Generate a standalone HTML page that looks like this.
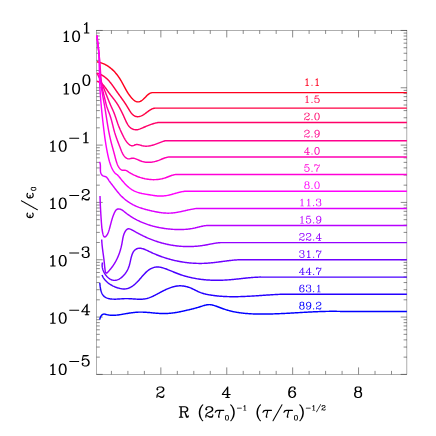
<!DOCTYPE html>
<html><head><meta charset="utf-8"><title>plot</title>
<style>
html,body{margin:0;padding:0;background:#fff;overflow:hidden;}
svg{display:block;}
</style></head><body>
<svg width="436" height="436" viewBox="0 0 436 436">
<rect width="436" height="436" fill="#fff"/>
<defs>
<path id="g0" fill-rule="evenodd" d="M11.00 -21.88 10.38 -21.62 7.50 -18.75 5.88 -18.00 5.25 -17.38 5.25 -17.12 5.12 -17.00 5.25 -16.88 5.25 -16.62 5.62 -16.25 5.88 -16.25 6.00 -16.12 6.12 -16.25 6.62 -16.25 8.12 -17.00 9.00 -17.75 9.12 -17.62 9.12 -1.00 9.00 -0.88 6.00 -0.88 5.88 -0.75 5.62 -0.75 5.25 -0.38 5.25 -0.12 5.12 0.00 5.25 0.12 5.25 0.38 5.88 0.88 15.12 0.88 15.75 0.38 15.75 0.12 15.88 0.00 15.75 -0.12 15.75 -0.38 15.12 -0.88 12.00 -0.88 11.88 -1.00 11.88 -21.12 11.38 -21.75 11.12 -21.75Z"/>
<path id="g1" fill-rule="evenodd" d="M5.12 -2.88 4.88 -2.88 4.38 -2.62 3.38 -1.62 3.12 -1.00 3.38 -0.38 4.38 0.62 5.00 0.88 5.62 0.62 6.62 -0.38 6.88 -1.00 6.62 -1.62 5.62 -2.62Z"/>
<path id="g2" fill-rule="evenodd" d="M4.88 -21.88 4.12 -21.25 4.12 -21.00 4.00 -20.88 4.00 -20.38 3.88 -20.25 3.88 -19.75 3.75 -19.62 3.75 -19.12 3.62 -19.00 3.62 -18.50 3.50 -18.38 3.50 -17.88 3.38 -17.75 3.38 -17.25 3.25 -17.12 3.25 -16.62 3.12 -16.50 3.12 -16.00 3.00 -15.88 3.00 -15.38 2.88 -15.25 2.88 -14.75 2.75 -14.62 2.75 -14.12 2.62 -14.00 2.62 -13.50 2.50 -13.38 2.50 -12.88 2.38 -12.75 2.38 -12.25 2.25 -12.12 2.25 -11.62 2.12 -11.50 2.12 -10.88 2.25 -10.62 2.62 -10.25 3.12 -10.12 3.62 -10.38 5.50 -12.25 5.75 -12.25 8.12 -13.12 10.75 -13.12 12.50 -12.25 14.25 -10.50 14.25 -10.25 15.12 -7.88 15.12 -6.12 15.00 -6.00 14.25 -3.50 12.50 -1.75 10.75 -0.88 8.12 -0.88 8.00 -1.00 5.50 -1.75 4.75 -2.50 4.38 -3.25 5.62 -4.38 5.88 -5.00 5.62 -5.62 4.62 -6.62 4.00 -6.88 3.38 -6.62 2.38 -5.62 2.12 -5.00 2.12 -3.88 2.25 -3.75 2.25 -3.38 3.12 -1.62 3.25 -1.62 4.38 -0.38 5.00 0.00 5.25 0.00 7.62 0.88 11.38 0.88 11.50 0.75 14.00 0.00 14.62 -0.38 16.62 -2.38 17.00 -3.00 17.00 -3.25 17.88 -5.62 17.88 -8.38 17.75 -8.50 17.00 -11.00 16.62 -11.62 14.62 -13.62 14.25 -13.88 12.25 -14.50 12.12 -14.62 11.88 -14.62 11.75 -14.75 11.50 -14.75 11.38 -14.88 7.62 -14.88 7.50 -14.75 5.00 -14.00 4.62 -13.75 4.50 -13.88 4.50 -14.12 4.62 -14.25 4.62 -14.75 4.75 -14.88 4.75 -15.38 4.88 -15.50 4.88 -16.00 5.00 -16.12 5.00 -16.62 5.12 -16.75 5.38 -18.50 5.62 -19.12 10.50 -19.12 10.62 -19.25 11.12 -19.25 11.25 -19.38 11.75 -19.38 11.88 -19.50 12.38 -19.50 12.50 -19.62 13.00 -19.62 13.12 -19.75 13.62 -19.75 13.75 -19.88 14.25 -19.88 14.38 -20.00 15.25 -20.12 15.75 -20.62 15.88 -21.12 15.75 -21.38 15.12 -21.88Z"/>
<path id="g3" fill-rule="evenodd" d="M5.00 -21.00 4.38 -20.62 3.38 -19.62 3.38 -19.50 3.12 -19.38 2.25 -17.62 2.25 -17.12 2.12 -17.00 2.12 -15.88 2.38 -15.38 3.38 -14.38 4.00 -14.12 4.62 -14.38 5.75 -15.62 5.75 -15.88 5.88 -16.00 5.62 -16.62 4.38 -17.75 4.75 -18.50 5.50 -19.25 5.75 -19.25 8.12 -20.12 11.75 -20.12 13.50 -19.25 14.25 -18.50 15.12 -16.75 15.12 -15.25 14.38 -13.75 14.00 -13.38 11.75 -11.88 5.88 -9.00 3.38 -6.62 3.00 -6.00 3.00 -5.75 2.12 -3.38 2.12 0.12 2.62 0.75 2.88 0.75 3.00 0.88 3.12 0.75 3.38 0.75 3.88 0.12 3.88 -1.62 4.38 -2.12 5.75 -2.12 6.88 -1.38 7.25 -1.25 7.50 -1.00 7.88 -0.88 8.12 -0.62 8.50 -0.50 8.75 -0.25 9.12 -0.12 9.38 0.12 9.75 0.25 10.00 0.50 10.88 0.88 15.12 0.88 15.62 0.62 16.62 -0.38 16.62 -0.50 16.88 -0.62 17.75 -2.38 17.75 -2.75 17.88 -2.88 17.88 -5.12 17.38 -5.75 17.12 -5.75 17.00 -5.88 16.88 -5.75 16.62 -5.75 16.25 -5.38 16.25 -5.12 16.12 -5.00 16.12 -3.38 15.50 -2.75 13.75 -1.88 11.12 -1.88 10.75 -2.12 10.50 -2.12 10.12 -2.38 9.88 -2.38 9.50 -2.62 9.25 -2.62 8.88 -2.88 8.62 -2.88 8.25 -3.12 8.00 -3.12 6.38 -3.88 4.38 -3.88 4.25 -4.00 4.38 -4.12 4.75 -5.50 6.50 -7.25 8.75 -8.38 9.00 -8.38 9.38 -8.62 9.62 -8.62 10.00 -8.88 10.25 -8.88 10.62 -9.12 10.88 -9.12 11.25 -9.38 11.50 -9.38 11.88 -9.62 12.12 -9.62 13.75 -10.38 16.38 -12.12 16.50 -12.38 16.88 -12.62 17.75 -14.38 17.75 -14.75 17.88 -14.88 17.88 -17.12 17.75 -17.25 17.75 -17.62 16.88 -19.38 16.75 -19.38 15.62 -20.62 15.00 -21.00 14.75 -21.00 12.38 -21.88 7.62 -21.88 7.50 -21.75Z"/>
<path id="g4" fill-rule="evenodd" d="M8.62 -21.88 8.50 -21.75 6.00 -21.00 5.25 -20.50 3.12 -17.25 3.00 -16.38 2.88 -16.25 2.88 -15.75 2.75 -15.62 2.75 -15.12 2.62 -15.00 2.62 -14.50 2.50 -14.38 2.50 -13.88 2.38 -13.75 2.38 -13.25 2.25 -13.12 2.25 -12.62 2.12 -12.50 2.12 -8.50 2.25 -8.38 2.25 -7.88 2.38 -7.75 2.38 -7.25 2.50 -7.12 2.50 -6.62 2.62 -6.50 2.62 -6.00 2.75 -5.88 2.75 -5.38 2.88 -5.25 2.88 -4.75 3.00 -4.62 3.12 -3.75 5.12 -0.62 6.00 0.00 6.25 0.00 8.62 0.88 11.38 0.88 11.50 0.75 14.00 0.00 14.75 -0.50 16.88 -3.75 17.00 -4.62 17.12 -4.75 17.12 -5.25 17.25 -5.38 17.25 -5.88 17.38 -6.00 17.38 -6.50 17.50 -6.62 17.50 -7.12 17.62 -7.25 17.62 -7.75 17.75 -7.88 17.75 -8.38 17.88 -8.50 17.88 -12.50 17.75 -12.62 17.75 -13.12 17.62 -13.25 17.62 -13.75 17.50 -13.88 17.50 -14.38 17.38 -14.50 17.38 -15.00 17.25 -15.12 17.25 -15.62 17.12 -15.75 17.12 -16.25 17.00 -16.38 16.88 -17.25 14.88 -20.38 14.00 -21.00 13.75 -21.00 11.38 -21.88ZM9.25 -20.12 10.75 -20.12 12.50 -19.25 13.25 -18.50 14.25 -16.38 14.25 -15.88 14.38 -15.75 14.38 -15.25 14.50 -15.12 14.50 -14.62 14.62 -14.50 14.62 -14.00 14.75 -13.88 14.75 -13.38 14.88 -13.25 14.88 -12.75 15.00 -12.62 15.00 -12.12 15.12 -12.00 15.12 -9.00 15.00 -8.88 15.00 -8.38 14.88 -8.25 14.88 -7.75 14.75 -7.62 14.75 -7.12 14.62 -7.00 14.62 -6.50 14.50 -6.38 14.50 -5.88 14.38 -5.75 14.38 -5.25 14.25 -5.12 14.12 -4.25 13.25 -2.50 12.50 -1.75 10.75 -0.88 9.25 -0.88 7.50 -1.75 6.75 -2.50 5.75 -4.62 5.75 -5.12 5.62 -5.25 5.62 -5.75 5.50 -5.88 5.50 -6.38 5.38 -6.50 5.38 -7.00 5.25 -7.12 5.25 -7.62 5.12 -7.75 5.12 -8.25 5.00 -8.38 5.00 -8.88 4.88 -9.00 4.88 -12.00 5.00 -12.12 5.00 -12.62 5.12 -12.75 5.12 -13.25 5.25 -13.38 5.25 -13.88 5.38 -14.00 5.38 -14.50 5.50 -14.62 5.50 -15.12 5.62 -15.25 5.62 -15.75 5.75 -15.88 5.88 -16.75 6.75 -18.50 7.50 -19.25Z"/>
<path id="g5" fill-rule="evenodd" d="M11.38 -21.88 8.62 -21.88 8.50 -21.75 6.00 -21.00 5.38 -20.62 3.38 -18.62 3.12 -18.25 2.50 -16.25 2.38 -16.12 2.38 -15.88 2.25 -15.75 2.25 -15.50 2.12 -15.38 2.12 -13.62 2.25 -13.50 2.25 -13.25 2.38 -13.12 2.38 -12.88 2.50 -12.75 3.12 -10.75 3.38 -10.38 5.38 -8.38 6.00 -8.00 6.25 -8.00 8.62 -7.12 10.38 -7.12 10.50 -7.25 10.75 -7.25 10.88 -7.38 11.12 -7.38 11.25 -7.50 13.25 -8.12 15.00 -9.75 15.12 -9.62 15.12 -9.00 15.00 -8.88 15.00 -8.50 14.88 -8.38 14.88 -8.00 14.75 -7.88 14.75 -7.50 14.62 -7.38 14.25 -5.50 13.25 -3.50 11.50 -1.75 9.75 -0.88 7.25 -0.88 5.62 -1.75 5.38 -2.25 6.62 -3.38 6.88 -4.00 6.62 -4.62 5.62 -5.62 5.00 -5.88 4.88 -5.75 4.62 -5.75 3.38 -4.62 3.12 -4.00 3.12 -2.88 3.25 -2.75 3.25 -2.38 4.12 -0.62 4.25 -0.62 4.88 0.00 6.38 0.75 6.75 0.75 6.88 0.88 10.38 0.88 10.50 0.75 13.00 0.00 13.62 -0.38 15.62 -2.38 15.62 -2.50 15.88 -2.62 16.75 -4.38 16.75 -4.62 17.00 -5.12 17.00 -5.50 17.12 -5.62 17.12 -6.00 17.25 -6.12 17.25 -6.50 17.38 -6.62 17.38 -7.00 17.50 -7.12 17.50 -7.50 17.62 -7.62 17.62 -8.00 17.75 -8.12 17.75 -8.50 17.88 -8.62 17.88 -15.38 17.75 -15.50 17.00 -18.00 16.62 -18.62 14.62 -20.62 14.00 -21.00 13.75 -21.00ZM10.75 -20.12 12.50 -19.25 14.25 -17.50 14.25 -17.25 15.12 -14.88 15.12 -14.12 15.00 -14.00 14.25 -11.50 12.50 -9.75 12.25 -9.75 9.88 -8.88 9.25 -8.88 7.50 -9.75 5.75 -11.50 5.75 -11.75 4.88 -14.12 4.88 -14.88 5.00 -15.00 5.75 -17.50 7.50 -19.25 9.25 -20.12Z"/>
<path id="g6" fill-rule="evenodd" d="M13.12 -21.88 12.88 -21.88 12.12 -21.38 11.00 -19.88 10.75 -19.38 9.62 -18.00 9.38 -17.50 8.25 -16.12 8.00 -15.62 6.88 -14.25 6.62 -13.75 5.50 -12.38 5.25 -11.88 4.12 -10.50 3.88 -10.00 2.75 -8.62 2.50 -8.12 1.38 -6.75 1.25 -6.12 1.12 -6.00 1.25 -5.88 1.25 -5.62 1.88 -5.12 11.00 -5.12 11.12 -5.00 11.12 -1.00 11.00 -0.88 9.00 -0.88 8.88 -0.75 8.62 -0.75 8.25 -0.38 8.25 -0.12 8.12 0.00 8.25 0.12 8.25 0.38 8.88 0.88 16.12 0.88 16.38 0.75 16.75 0.38 16.75 0.12 16.88 0.00 16.75 -0.12 16.75 -0.38 16.38 -0.75 16.12 -0.88 14.00 -0.88 13.88 -1.00 13.88 -5.00 14.00 -5.12 18.12 -5.12 18.75 -5.62 18.75 -5.88 18.88 -6.00 18.75 -6.12 18.75 -6.38 18.12 -6.88 14.00 -6.88 13.88 -7.00 13.88 -21.12 13.75 -21.38ZM11.00 -16.75 11.12 -16.62 11.12 -7.00 11.00 -6.88 4.00 -6.88 3.88 -7.00 4.25 -7.62 5.38 -9.00 5.62 -9.50 6.75 -10.88 7.00 -11.38 8.12 -12.75 8.38 -13.25Z"/>
<path id="g7" fill-rule="evenodd" d="M17.12 -21.88 16.88 -21.88 16.12 -21.38 15.25 -19.50 14.62 -18.88 13.25 -18.88 12.12 -19.62 11.75 -19.75 11.50 -20.00 11.12 -20.12 10.88 -20.38 10.50 -20.50 10.25 -20.75 9.88 -20.88 9.62 -21.12 9.25 -21.25 9.00 -21.50 8.12 -21.88 6.00 -21.88 5.88 -21.75 5.62 -21.75 5.38 -21.62 4.00 -20.25 3.88 -20.38 3.88 -21.12 3.38 -21.75 3.12 -21.75 3.00 -21.88 2.88 -21.75 2.62 -21.75 2.25 -21.38 2.25 -21.12 2.12 -21.00 2.12 -14.88 2.62 -14.25 2.88 -14.25 3.00 -14.12 3.12 -14.25 3.38 -14.25 3.88 -14.88 3.88 -16.75 4.62 -18.25 6.25 -19.12 7.75 -19.12 7.88 -19.00 8.50 -18.88 8.88 -18.62 9.12 -18.62 9.50 -18.38 9.75 -18.38 10.12 -18.12 10.38 -18.12 10.75 -17.88 11.00 -17.88 11.38 -17.62 11.62 -17.62 12.00 -17.38 12.25 -17.38 12.62 -17.12 15.12 -17.12 15.50 -17.38 15.75 -17.25 15.25 -15.50 10.38 -10.62 10.38 -10.50 10.12 -10.38 9.12 -8.38 9.12 -8.12 8.12 -5.38 8.12 0.12 8.62 0.75 8.88 0.75 9.00 0.88 9.50 0.62 10.00 0.88 10.12 0.75 10.38 0.75 10.75 0.38 10.88 0.12 10.88 -4.88 11.00 -5.00 11.75 -7.50 13.00 -9.88 13.50 -10.38 13.50 -10.50 14.00 -11.00 14.00 -11.12 14.50 -11.62 16.00 -13.62 16.75 -14.38 16.75 -14.62 17.00 -15.00 17.00 -15.25 17.88 -17.62 17.88 -21.12 17.75 -21.38ZM15.62 -17.38 15.75 -17.50 15.88 -17.38 15.75 -17.25Z"/>
<path id="g8" fill-rule="evenodd" d="M7.62 -21.88 7.50 -21.75 7.25 -21.75 7.12 -21.62 6.88 -21.62 6.75 -21.50 4.75 -20.88 4.25 -20.38 4.12 -20.38 3.25 -18.62 3.25 -18.12 3.12 -18.00 3.12 -14.88 3.25 -14.75 3.25 -14.38 4.12 -12.62 5.00 -12.00 4.38 -11.62 3.38 -10.62 3.38 -10.50 3.12 -10.38 2.25 -8.62 2.25 -8.12 2.12 -8.00 2.12 -3.88 2.25 -3.75 2.25 -3.38 3.12 -1.62 3.25 -1.62 4.38 -0.38 5.00 0.00 5.25 0.00 7.62 0.88 12.38 0.88 12.50 0.75 15.00 0.00 15.62 -0.38 16.62 -1.38 16.62 -1.50 16.88 -1.62 17.75 -3.38 17.75 -3.75 17.88 -3.88 17.88 -8.12 17.75 -8.25 17.75 -8.62 16.88 -10.38 16.75 -10.38 15.62 -11.62 15.00 -12.00 15.88 -12.62 16.75 -14.38 16.75 -14.75 16.88 -14.88 16.88 -18.12 16.75 -18.25 16.75 -18.62 15.88 -20.38 15.00 -21.00 14.75 -21.00 12.38 -21.88ZM8.25 -11.12 11.75 -11.12 13.50 -10.25 14.25 -9.50 15.12 -7.75 15.12 -4.25 14.25 -2.50 13.50 -1.75 11.75 -0.88 8.25 -0.88 6.50 -1.75 5.75 -2.50 4.88 -4.25 4.88 -7.75 5.75 -9.50 6.50 -10.25ZM6.62 -19.25 8.25 -20.12 11.75 -20.12 13.25 -19.38 14.12 -17.75 14.12 -15.25 13.38 -13.75 11.75 -12.88 8.25 -12.88 6.75 -13.62 5.88 -15.25 5.88 -17.75Z"/>
<path id="g9" fill-rule="evenodd" d="M7.62 -21.88 7.50 -21.75 7.25 -21.75 7.12 -21.62 6.88 -21.62 6.75 -21.50 4.75 -20.88 4.38 -20.62 3.25 -19.38 3.12 -19.38 2.25 -17.62 2.25 -17.12 2.12 -17.00 2.12 -15.88 2.38 -15.38 3.38 -14.38 4.00 -14.12 4.62 -14.38 5.62 -15.38 5.88 -16.00 5.62 -16.62 4.38 -17.75 4.75 -18.50 5.50 -19.25 5.75 -19.25 8.12 -20.12 11.75 -20.12 13.25 -19.38 14.12 -17.75 14.12 -15.25 13.38 -13.75 11.75 -12.88 9.00 -12.88 8.88 -12.75 8.62 -12.75 8.25 -12.38 8.25 -12.12 8.12 -12.00 8.25 -11.88 8.25 -11.62 8.88 -11.12 11.75 -11.12 13.50 -10.25 14.25 -9.50 14.25 -9.25 15.12 -6.88 15.12 -4.25 14.25 -2.50 13.50 -1.75 11.75 -0.88 8.12 -0.88 8.00 -1.00 5.50 -1.75 4.75 -2.50 4.38 -3.25 5.62 -4.38 5.88 -5.00 5.62 -5.62 4.62 -6.62 4.00 -6.88 3.38 -6.62 2.38 -5.62 2.12 -5.00 2.12 -3.88 2.25 -3.75 2.25 -3.38 3.12 -1.62 3.25 -1.62 4.38 -0.38 5.00 0.00 5.25 0.00 7.62 0.88 12.38 0.88 12.50 0.75 15.00 0.00 15.62 -0.38 16.62 -1.38 16.62 -1.50 16.88 -1.62 17.75 -3.38 17.75 -3.75 17.88 -3.88 17.88 -7.12 17.75 -7.25 17.75 -7.62 16.88 -9.38 16.75 -9.38 16.62 -9.62 14.62 -11.62 14.38 -11.75 14.75 -12.00 15.25 -12.12 15.75 -12.62 15.88 -12.62 16.75 -14.38 16.75 -14.75 16.88 -14.88 16.88 -18.12 16.75 -18.25 16.75 -18.62 15.88 -20.38 15.00 -21.00 14.75 -21.00 12.38 -21.88Z"/>
<path id="g10" fill-rule="evenodd" d="M9.62 -21.88 9.50 -21.75 7.00 -21.00 6.38 -20.62 4.38 -18.62 4.38 -18.50 4.12 -18.38 3.25 -16.62 3.25 -16.38 3.00 -15.88 3.00 -15.50 2.88 -15.38 2.88 -15.00 2.75 -14.88 2.75 -14.50 2.62 -14.38 2.62 -14.00 2.50 -13.88 2.50 -13.50 2.38 -13.38 2.38 -13.00 2.25 -12.88 2.25 -12.50 2.12 -12.38 2.12 -5.62 2.25 -5.50 2.25 -5.25 2.38 -5.12 2.38 -4.88 2.50 -4.75 3.12 -2.75 3.38 -2.38 5.38 -0.38 6.00 0.00 6.25 0.00 8.62 0.88 11.38 0.88 11.50 0.75 11.75 0.75 11.88 0.62 12.12 0.62 12.25 0.50 14.25 -0.12 14.62 -0.38 16.62 -2.38 17.00 -3.00 17.00 -3.25 17.88 -5.62 17.88 -7.38 17.75 -7.50 17.00 -10.00 16.62 -10.62 14.62 -12.62 14.25 -12.88 12.25 -13.50 12.12 -13.62 11.88 -13.62 11.75 -13.75 11.50 -13.75 11.38 -13.88 9.62 -13.88 9.50 -13.75 7.00 -13.00 6.38 -12.62 5.00 -11.25 4.88 -11.38 4.88 -12.00 5.00 -12.12 5.00 -12.50 5.12 -12.62 5.12 -13.00 5.25 -13.12 5.25 -13.50 5.38 -13.62 5.75 -15.50 6.75 -17.50 8.50 -19.25 10.25 -20.12 12.75 -20.12 14.38 -19.25 14.62 -18.75 13.38 -17.62 13.12 -17.00 13.38 -16.38 14.62 -15.25 14.88 -15.25 15.00 -15.12 15.62 -15.38 16.62 -16.38 16.88 -16.88 16.88 -18.12 16.75 -18.25 16.75 -18.62 15.88 -20.38 15.75 -20.38 15.12 -21.00 13.62 -21.75 13.12 -21.75 13.00 -21.88ZM10.12 -12.12 10.75 -12.12 12.50 -11.25 14.25 -9.50 14.25 -9.25 15.12 -6.88 15.12 -6.12 15.00 -6.00 14.25 -3.50 12.50 -1.75 10.75 -0.88 9.25 -0.88 7.50 -1.75 5.75 -3.50 5.75 -3.75 4.88 -6.12 4.88 -6.88 5.00 -7.00 5.75 -9.50 7.50 -11.25 7.75 -11.25Z"/>
<path id="g11" fill-rule="evenodd" d="M4.62 -21.00 3.25 -19.75 2.00 -17.38 2.00 -15.75 2.25 -15.25 3.25 -14.25 3.75 -14.00 4.25 -14.00 4.75 -14.25 5.75 -15.25 6.00 -15.75 6.00 -16.25 5.75 -16.75 4.62 -17.88 4.75 -18.25 5.62 -19.12 7.62 -19.75 7.75 -19.88 8.12 -19.88 8.25 -20.00 11.75 -20.00 13.25 -19.25 14.25 -18.25 15.00 -16.75 15.00 -15.25 14.12 -13.62 11.50 -11.88 5.62 -9.00 5.25 -8.75 3.25 -6.75 3.00 -6.38 3.00 -6.12 2.00 -3.38 2.00 0.25 2.12 0.50 2.75 1.00 3.25 1.00 3.50 0.88 4.00 0.25 4.00 -1.50 4.50 -2.00 5.62 -2.00 7.62 -0.88 7.88 -0.62 8.25 -0.50 8.50 -0.25 8.88 -0.12 9.12 0.12 9.50 0.25 9.75 0.50 10.12 0.62 10.38 0.88 10.62 0.88 10.75 1.00 15.25 1.00 15.75 0.75 16.75 -0.25 17.75 -2.25 18.00 -2.50 18.00 -5.25 17.50 -5.88 17.25 -6.00 16.75 -6.00 16.12 -5.50 16.00 -5.25 16.00 -3.50 15.25 -2.75 13.75 -2.00 11.25 -2.00 11.12 -2.12 10.50 -2.25 10.12 -2.50 9.88 -2.50 9.50 -2.75 9.25 -2.75 8.88 -3.00 8.62 -3.00 8.25 -3.25 8.00 -3.25 7.62 -3.50 7.38 -3.50 7.00 -3.75 6.75 -3.75 6.38 -4.00 4.62 -4.00 4.50 -4.12 4.50 -4.38 4.88 -5.38 6.75 -7.25 8.25 -8.00 8.50 -8.00 9.38 -8.50 9.62 -8.50 10.00 -8.75 10.25 -8.75 10.62 -9.00 10.88 -9.00 11.25 -9.25 11.50 -9.25 11.88 -9.50 12.12 -9.50 12.50 -9.75 13.38 -10.00 16.62 -12.12 17.00 -12.62 18.00 -14.62 18.00 -17.38 17.00 -19.38 15.75 -20.75 15.38 -21.00 12.88 -21.75 12.50 -22.00 7.62 -22.00 7.50 -21.88Z"/>
<path id="g12" fill-rule="evenodd" d="M13.38 -22.00 12.62 -22.00 12.12 -21.62 11.88 -21.12 10.75 -19.75 10.50 -19.25 9.38 -17.88 9.12 -17.38 8.00 -16.00 7.75 -15.50 6.62 -14.12 6.38 -13.62 1.12 -6.62 1.12 -6.38 1.00 -6.25 1.00 -5.75 1.12 -5.50 1.75 -5.00 10.88 -5.00 11.00 -4.88 11.00 -1.12 10.88 -1.00 8.75 -1.00 8.50 -0.88 8.00 -0.25 8.00 0.25 8.12 0.50 8.75 1.00 16.25 1.00 16.50 0.88 17.00 0.25 17.00 -0.25 16.50 -0.88 16.25 -1.00 14.12 -1.00 14.00 -1.12 14.00 -4.88 14.12 -5.00 18.25 -5.00 18.50 -5.12 19.00 -5.75 19.00 -6.25 18.88 -6.50 18.25 -7.00 14.12 -7.00 14.00 -7.12 14.00 -21.38ZM10.88 -16.38 11.00 -16.25 11.00 -7.12 10.88 -7.00 4.25 -7.00 4.12 -7.12 4.50 -7.75 5.62 -9.12 5.88 -9.62 7.00 -11.00 7.25 -11.50 8.38 -12.88 8.62 -13.38Z"/>
<path id="g13" fill-rule="evenodd" d="M9.50 -22.00 9.12 -21.75 6.62 -21.00 6.25 -20.75 4.25 -18.75 3.00 -16.38 2.88 -15.50 2.75 -15.38 2.75 -15.00 2.62 -14.88 2.62 -14.50 2.50 -14.38 2.50 -14.00 2.25 -13.38 2.25 -13.00 2.00 -12.50 2.00 -5.62 2.12 -5.50 3.00 -2.62 3.25 -2.25 5.25 -0.25 5.62 0.00 8.12 0.75 8.50 1.00 11.50 1.00 11.88 0.75 14.38 0.00 14.75 -0.25 16.75 -2.25 17.00 -2.62 17.00 -2.88 18.00 -5.62 18.00 -7.38 17.88 -7.50 17.00 -10.38 16.75 -10.75 14.75 -12.75 14.38 -13.00 11.88 -13.75 11.50 -14.00 9.62 -14.00 9.50 -13.88 6.62 -13.00 5.12 -11.62 5.00 -11.75 5.25 -13.00 5.38 -13.12 5.38 -13.50 5.50 -13.62 5.50 -14.00 5.62 -14.12 5.62 -14.50 5.75 -14.62 5.75 -15.00 5.88 -15.12 6.00 -15.75 6.75 -17.25 8.75 -19.25 10.25 -20.00 12.75 -20.00 14.00 -19.38 14.38 -19.00 14.38 -18.88 13.25 -17.75 13.00 -17.25 13.00 -16.75 13.25 -16.25 14.25 -15.25 14.75 -15.00 15.25 -15.00 15.75 -15.25 16.75 -16.25 17.00 -16.75 17.00 -18.38 16.00 -20.38 15.38 -21.00 13.38 -22.00ZM10.75 -12.00 12.25 -11.25 14.12 -9.38 14.75 -7.38 14.88 -7.25 15.00 -6.25 14.88 -6.12 14.88 -5.75 14.75 -5.62 14.12 -3.62 12.25 -1.75 10.75 -1.00 9.25 -1.00 7.75 -1.75 5.88 -3.62 5.25 -5.62 5.12 -5.75 5.00 -6.75 5.12 -6.88 5.12 -7.25 5.25 -7.38 5.88 -9.38 7.62 -11.12 9.62 -11.75 9.75 -11.88Z"/>
<path id="g14" fill-rule="evenodd" d="M8.00 -22.12 7.88 -22.00 7.50 -22.00 7.12 -21.75 4.62 -21.00 4.00 -20.38 3.00 -18.38 3.00 -14.62 4.00 -12.62 4.62 -12.00 3.25 -10.75 2.00 -8.38 2.00 -3.62 3.25 -1.25 4.62 0.00 7.12 0.75 7.50 1.00 12.50 1.00 12.88 0.75 15.38 0.00 15.75 -0.25 16.75 -1.25 18.00 -3.62 18.00 -8.38 16.75 -10.75 15.38 -12.00 16.00 -12.62 17.00 -14.62 17.00 -18.38 16.00 -20.38 15.38 -21.00 12.88 -21.75 12.50 -22.00 8.12 -22.00ZM8.25 -11.00 11.75 -11.00 13.25 -10.25 14.25 -9.25 15.00 -7.75 15.00 -4.25 14.25 -2.75 13.25 -1.75 11.75 -1.00 8.25 -1.00 6.75 -1.75 5.75 -2.75 5.00 -4.25 5.00 -7.75 5.75 -9.25 6.75 -10.25ZM6.62 -19.00 7.00 -19.38 8.25 -20.00 11.75 -20.00 13.00 -19.38 13.38 -19.00 14.00 -17.75 14.00 -15.25 13.38 -14.00 13.00 -13.62 11.75 -13.00 8.25 -13.00 7.00 -13.62 6.62 -14.00 6.00 -15.25 6.00 -17.75Z"/>
<path id="g15" fill-rule="evenodd" d="M11.25 -22.00 10.75 -22.00 10.25 -21.75 7.25 -18.75 5.62 -18.00 5.00 -17.25 5.00 -16.75 5.12 -16.50 5.75 -16.00 6.38 -16.00 8.38 -17.00 8.88 -17.38 9.00 -17.25 9.00 -1.12 8.88 -1.00 5.75 -1.00 5.50 -0.88 5.00 -0.25 5.00 0.25 5.12 0.50 5.75 1.00 15.25 1.00 15.50 0.88 16.00 0.25 16.00 -0.25 15.88 -0.50 15.25 -1.00 12.12 -1.00 12.00 -1.12 12.00 -21.25 11.88 -21.50Z"/>
<path id="g16" fill-rule="evenodd" d="M9.00 -22.12 8.88 -22.00 8.50 -22.00 8.12 -21.75 5.62 -21.00 5.12 -20.62 3.12 -17.62 3.12 -17.38 2.88 -17.00 2.88 -16.38 2.75 -16.25 2.75 -15.75 2.62 -15.62 2.62 -15.12 2.50 -15.00 2.50 -14.50 2.38 -14.38 2.38 -13.88 2.25 -13.75 2.25 -13.25 2.12 -13.12 2.12 -12.62 2.00 -12.50 2.00 -8.50 2.12 -8.38 2.12 -7.88 2.25 -7.75 2.25 -7.25 2.38 -7.12 2.38 -6.62 2.50 -6.50 2.50 -6.00 2.62 -5.88 2.62 -5.38 2.75 -5.25 2.75 -4.75 2.88 -4.62 2.88 -4.00 3.12 -3.62 3.12 -3.38 5.12 -0.38 5.62 0.00 8.12 0.75 8.50 1.00 11.50 1.00 11.88 0.75 14.38 0.00 14.88 -0.38 16.88 -3.38 16.88 -3.62 17.12 -4.00 17.12 -4.62 17.25 -4.75 17.25 -5.25 17.38 -5.38 17.38 -5.88 17.50 -6.00 17.50 -6.50 17.62 -6.62 17.62 -7.12 17.75 -7.25 17.75 -7.75 17.88 -7.88 17.88 -8.38 18.00 -8.50 18.00 -12.50 17.88 -12.62 17.88 -13.12 17.75 -13.25 17.75 -13.75 17.62 -13.88 17.62 -14.38 17.50 -14.50 17.50 -15.00 17.38 -15.12 17.38 -15.62 17.25 -15.75 17.25 -16.25 17.12 -16.38 17.12 -17.00 16.88 -17.38 16.88 -17.62 14.88 -20.62 14.38 -21.00 11.88 -21.75 11.50 -22.00 9.12 -22.00ZM9.25 -20.00 10.75 -20.00 12.25 -19.25 13.25 -18.25 14.12 -16.38 14.12 -15.88 14.25 -15.75 14.25 -15.25 14.38 -15.12 14.38 -14.62 14.50 -14.50 14.50 -14.00 14.62 -13.88 14.62 -13.38 14.75 -13.25 14.75 -12.75 14.88 -12.62 14.88 -12.00 15.00 -11.88 15.00 -9.12 14.88 -9.00 14.88 -8.38 14.75 -8.25 14.75 -7.75 14.62 -7.62 14.62 -7.12 14.50 -7.00 14.50 -6.50 14.38 -6.38 14.38 -5.88 14.25 -5.75 14.25 -5.25 14.12 -5.12 14.00 -4.25 13.25 -2.75 12.25 -1.75 10.75 -1.00 9.25 -1.00 7.75 -1.75 6.75 -2.75 5.88 -4.62 5.88 -5.12 5.75 -5.25 5.75 -5.75 5.62 -5.88 5.62 -6.38 5.50 -6.50 5.50 -7.00 5.38 -7.12 5.38 -7.62 5.25 -7.75 5.25 -8.25 5.12 -8.38 5.12 -9.00 5.00 -9.12 5.00 -11.88 5.12 -12.00 5.12 -12.62 5.25 -12.75 5.25 -13.25 5.38 -13.38 5.38 -13.88 5.50 -14.00 5.50 -14.50 5.62 -14.62 5.62 -15.12 5.75 -15.25 5.75 -15.75 5.88 -15.88 6.00 -16.75 6.75 -18.25 7.75 -19.25Z"/>
<path id="g17" fill-rule="evenodd" d="M3.00 -9.25 3.00 -8.75 3.12 -8.50 3.75 -8.00 22.25 -8.00 22.50 -8.12 23.00 -8.75 23.00 -9.25 22.88 -9.50 22.25 -10.00 3.75 -10.00 3.50 -9.88Z"/>
<path id="g18" fill-rule="evenodd" d="M7.62 -22.00 7.50 -21.88 4.62 -21.00 3.25 -19.75 2.00 -17.38 2.00 -15.75 2.25 -15.25 3.25 -14.25 3.75 -14.00 4.25 -14.00 4.75 -14.25 5.75 -15.25 6.00 -15.75 6.00 -16.25 5.75 -16.75 4.62 -17.88 4.75 -18.25 5.62 -19.12 7.62 -19.75 7.75 -19.88 8.12 -19.88 8.25 -20.00 11.75 -20.00 13.00 -19.38 13.38 -19.00 14.00 -17.75 14.00 -15.25 13.38 -14.00 13.00 -13.62 11.75 -13.00 8.75 -13.00 8.12 -12.50 8.00 -12.25 8.00 -11.75 8.12 -11.50 8.75 -11.00 11.75 -11.00 13.25 -10.25 14.12 -9.38 14.75 -7.38 14.88 -7.25 14.88 -6.88 15.00 -6.75 15.00 -4.25 14.25 -2.75 13.25 -1.75 11.75 -1.00 8.25 -1.00 8.12 -1.12 7.75 -1.12 7.62 -1.25 5.88 -1.75 4.75 -2.75 4.62 -3.12 5.75 -4.25 6.00 -4.75 6.00 -5.25 5.75 -5.75 4.75 -6.75 4.25 -7.00 3.75 -7.00 3.25 -6.75 2.25 -5.75 2.00 -5.25 2.00 -3.62 3.25 -1.25 4.62 0.00 4.88 0.00 7.62 1.00 12.50 1.00 12.88 0.75 15.38 0.00 15.75 -0.25 16.75 -1.25 18.00 -3.62 18.00 -7.38 16.75 -9.75 14.75 -11.75 15.12 -12.00 15.38 -12.00 16.00 -12.62 17.00 -14.62 17.00 -18.38 16.00 -20.38 15.38 -21.00 12.88 -21.75 12.50 -22.00Z"/>
<path id="g19" fill-rule="evenodd" d="M4.62 -22.00 4.00 -21.38 4.00 -21.12 3.88 -21.00 3.88 -20.38 3.75 -20.25 3.75 -19.75 3.62 -19.62 3.62 -19.12 3.50 -19.00 3.50 -18.50 3.38 -18.38 3.38 -17.88 3.25 -17.75 3.25 -17.25 3.12 -17.12 3.12 -16.62 3.00 -16.50 3.00 -16.00 2.88 -15.88 2.88 -15.38 2.75 -15.25 2.75 -14.75 2.62 -14.62 2.62 -14.12 2.50 -14.00 2.50 -13.50 2.38 -13.38 2.38 -12.88 2.25 -12.75 2.25 -12.25 2.12 -12.12 2.12 -11.62 2.00 -11.50 2.00 -10.62 2.62 -10.00 3.38 -10.00 5.88 -12.25 6.12 -12.25 7.75 -12.88 8.12 -12.88 8.25 -13.00 10.75 -13.00 12.25 -12.25 14.12 -10.38 14.75 -8.38 14.88 -8.25 14.88 -7.88 15.00 -7.75 15.00 -6.25 14.88 -6.12 14.88 -5.75 14.75 -5.62 14.12 -3.62 12.25 -1.75 10.75 -1.00 8.25 -1.00 8.12 -1.12 7.75 -1.12 7.62 -1.25 5.62 -1.88 4.75 -2.75 4.62 -3.12 5.75 -4.25 6.00 -4.75 6.00 -5.25 5.75 -5.75 4.75 -6.75 4.25 -7.00 3.75 -7.00 3.25 -6.75 2.25 -5.75 2.00 -5.25 2.00 -3.62 3.00 -1.62 4.25 -0.25 4.62 0.00 4.88 0.00 7.62 1.00 11.50 1.00 11.88 0.75 14.38 0.00 14.75 -0.25 16.75 -2.25 17.00 -2.62 17.00 -2.88 18.00 -5.62 18.00 -8.38 17.88 -8.50 17.00 -11.38 16.75 -11.75 14.75 -13.75 14.38 -14.00 11.88 -14.75 11.50 -15.00 7.62 -15.00 4.88 -14.00 4.62 -14.12 4.75 -14.25 4.75 -14.75 4.88 -14.88 4.88 -15.38 5.00 -15.50 5.00 -16.00 5.12 -16.12 5.12 -16.62 5.25 -16.75 5.50 -18.50 5.75 -19.00 10.50 -19.00 10.62 -19.12 11.12 -19.12 11.25 -19.25 11.75 -19.25 11.88 -19.38 12.38 -19.38 12.50 -19.50 13.00 -19.50 13.12 -19.62 13.62 -19.62 13.75 -19.75 14.25 -19.75 14.38 -19.88 15.00 -19.88 15.12 -20.00 15.38 -20.00 16.00 -20.62 16.00 -21.38 15.38 -22.00Z"/>
<path id="g20" fill-rule="evenodd" d="M1.50 -21.88 1.00 -21.25 1.00 -20.75 1.50 -20.12 1.75 -20.00 3.88 -20.00 4.00 -19.88 4.00 -1.12 3.88 -1.00 1.75 -1.00 1.50 -0.88 1.00 -0.25 1.00 0.25 1.12 0.50 1.75 1.00 9.25 1.00 9.88 0.50 10.00 0.25 10.00 -0.25 9.50 -0.88 9.25 -1.00 7.12 -1.00 7.00 -1.12 7.00 -9.88 7.12 -10.00 10.75 -10.00 12.00 -9.38 12.38 -9.00 13.00 -7.75 13.00 -7.50 13.38 -6.62 13.38 -6.25 13.62 -5.75 13.62 -5.38 13.88 -4.88 13.88 -4.50 14.12 -4.00 14.12 -3.62 14.38 -3.12 14.38 -2.75 14.62 -2.25 14.62 -1.88 14.88 -1.38 14.88 -1.00 15.25 -0.25 16.25 0.75 16.75 1.00 19.25 1.00 19.50 0.88 20.00 0.38 20.75 -1.25 21.00 -1.50 21.00 -3.25 20.50 -3.88 20.25 -4.00 19.75 -4.00 19.12 -3.50 19.00 -3.25 19.00 -2.50 18.50 -2.00 17.75 -2.75 17.62 -3.25 17.25 -3.88 17.25 -4.12 16.88 -4.75 16.88 -5.00 16.50 -5.62 16.50 -5.88 16.12 -6.50 16.12 -6.75 15.75 -7.38 15.75 -7.62 15.38 -8.25 15.12 -9.12 14.50 -10.00 14.88 -10.25 17.38 -11.00 17.75 -11.25 18.75 -12.25 20.00 -14.62 20.00 -17.38 18.75 -19.75 17.38 -21.00 14.88 -21.75 14.50 -22.00 1.75 -22.00ZM7.00 -19.88 7.12 -20.00 13.75 -20.00 15.25 -19.25 16.25 -18.25 17.00 -16.75 17.00 -15.25 16.25 -13.75 15.25 -12.75 13.75 -12.00 7.12 -12.00 7.00 -12.12Z"/>
<path id="g21" fill-rule="evenodd" d="M10.75 -26.00 10.25 -25.75 8.00 -23.50 7.88 -23.12 6.12 -20.62 4.00 -16.38 4.00 -16.12 3.88 -16.00 3.88 -15.38 3.75 -15.25 3.75 -14.75 3.62 -14.62 3.62 -14.12 3.50 -14.00 3.50 -13.50 3.38 -13.38 3.38 -12.88 3.25 -12.75 3.25 -12.25 3.12 -12.12 3.12 -11.62 3.00 -11.50 3.00 -6.50 3.12 -6.38 3.12 -5.88 3.25 -5.75 3.25 -5.25 3.38 -5.12 3.38 -4.62 3.50 -4.50 3.50 -4.00 3.62 -3.88 3.62 -3.38 3.75 -3.25 3.75 -2.75 3.88 -2.62 3.88 -2.00 4.00 -1.88 4.00 -1.62 6.12 2.62 7.88 5.12 8.00 5.50 10.25 7.75 10.75 8.00 11.25 8.00 11.88 7.50 12.00 7.25 12.00 6.75 11.75 6.25 9.75 4.25 8.00 0.75 8.00 0.50 7.75 0.12 7.75 -0.12 7.00 -2.12 6.88 -3.12 6.75 -3.25 6.75 -3.75 6.62 -3.88 6.62 -4.38 6.50 -4.50 6.50 -5.00 6.38 -5.12 6.38 -5.62 6.25 -5.75 6.25 -6.25 6.12 -6.38 6.12 -7.00 6.00 -7.12 6.00 -10.88 6.12 -11.00 6.12 -11.62 6.25 -11.75 6.25 -12.25 6.38 -12.38 6.38 -12.88 6.50 -13.00 6.50 -13.50 6.62 -13.62 6.88 -15.38 7.00 -15.50 7.00 -15.88 7.12 -16.00 7.75 -18.12 9.75 -22.25 11.75 -24.25 12.00 -24.75 12.00 -25.25 11.88 -25.50 11.25 -26.00Z"/>
<path id="g22" fill-rule="evenodd" d="M9.00 -22.50 6.25 -21.50 5.50 -21.38 4.75 -20.75 2.75 -17.75 2.75 -17.50 2.50 -17.00 2.50 -16.38 2.38 -16.25 2.38 -15.75 2.25 -15.62 2.25 -15.12 2.12 -15.00 2.12 -14.50 2.00 -14.38 1.75 -12.62 1.62 -12.50 1.62 -8.50 1.75 -8.38 1.75 -7.88 1.88 -7.75 1.88 -7.25 2.00 -7.12 2.00 -6.62 2.12 -6.50 2.12 -6.00 2.25 -5.88 2.25 -5.38 2.38 -5.25 2.38 -4.75 2.50 -4.62 2.50 -4.00 2.62 -3.88 2.75 -3.25 4.75 -0.25 5.50 0.38 6.25 0.50 6.38 0.62 7.75 1.00 8.50 1.38 11.50 1.38 12.25 1.00 12.50 1.00 13.75 0.50 14.50 0.38 15.25 -0.25 17.25 -3.25 17.25 -3.50 17.50 -4.00 17.50 -4.62 17.62 -4.75 17.62 -5.25 17.75 -5.38 17.75 -5.88 17.88 -6.00 17.88 -6.50 18.00 -6.62 18.25 -8.38 18.38 -8.50 18.38 -12.50 18.25 -12.62 18.25 -13.12 18.12 -13.25 18.12 -13.75 18.00 -13.88 18.00 -14.38 17.88 -14.50 17.88 -15.00 17.75 -15.12 17.75 -15.62 17.62 -15.75 17.62 -16.25 17.50 -16.38 17.50 -17.00 17.38 -17.12 17.25 -17.75 15.25 -20.75 14.50 -21.38 13.75 -21.50 13.62 -21.62 12.25 -22.00 11.50 -22.38 9.12 -22.38ZM9.38 -19.62 10.62 -19.62 12.12 -18.88 12.88 -18.12 13.75 -16.38 13.75 -15.88 13.88 -15.75 13.88 -15.25 14.00 -15.12 14.00 -14.62 14.12 -14.50 14.12 -14.00 14.25 -13.88 14.25 -13.38 14.38 -13.25 14.38 -12.75 14.50 -12.62 14.50 -12.00 14.62 -11.88 14.62 -9.12 14.50 -9.00 14.50 -8.38 14.38 -8.25 14.38 -7.75 14.25 -7.62 14.25 -7.12 14.12 -7.00 14.12 -6.50 14.00 -6.38 13.75 -4.62 12.88 -2.88 12.12 -2.12 10.62 -1.38 9.38 -1.38 7.88 -2.12 7.12 -2.88 6.25 -4.62 6.25 -5.12 6.12 -5.25 6.12 -5.75 6.00 -5.88 6.00 -6.38 5.88 -6.50 5.88 -7.00 5.75 -7.12 5.75 -7.62 5.62 -7.75 5.62 -8.25 5.50 -8.38 5.50 -9.00 5.38 -9.12 5.38 -11.88 5.50 -12.00 5.50 -12.62 5.62 -12.75 5.62 -13.25 5.75 -13.38 5.75 -13.88 5.88 -14.00 5.88 -14.50 6.00 -14.62 6.25 -16.38 7.12 -18.12 7.88 -18.88Z"/>
<path id="g23" fill-rule="evenodd" d="M2.75 -26.00 2.12 -25.50 2.00 -25.25 2.00 -24.75 2.25 -24.25 4.25 -22.25 6.00 -18.75 6.00 -18.50 6.25 -18.12 6.25 -17.88 7.00 -15.88 7.12 -14.88 7.25 -14.75 7.25 -14.25 7.38 -14.12 7.38 -13.62 7.50 -13.50 7.50 -13.00 7.62 -12.88 7.62 -12.38 7.75 -12.25 7.75 -11.75 7.88 -11.62 7.88 -11.00 8.00 -10.88 8.00 -7.12 7.88 -7.00 7.88 -6.38 7.75 -6.25 7.75 -5.75 7.62 -5.62 7.62 -5.12 7.50 -5.00 7.50 -4.50 7.38 -4.38 7.12 -2.62 7.00 -2.50 7.00 -2.12 6.88 -2.00 6.25 0.12 4.25 4.25 2.25 6.25 2.00 6.75 2.00 7.25 2.12 7.50 2.75 8.00 3.25 8.00 3.75 7.75 6.00 5.50 6.12 5.12 7.88 2.62 10.00 -1.62 10.00 -1.88 10.12 -2.00 10.12 -2.62 10.25 -2.75 10.25 -3.25 10.38 -3.38 10.38 -3.88 10.50 -4.00 10.50 -4.50 10.62 -4.62 10.62 -5.12 10.75 -5.25 10.75 -5.75 10.88 -5.88 10.88 -6.38 11.00 -6.50 11.00 -11.50 10.88 -11.62 10.88 -12.12 10.75 -12.25 10.75 -12.75 10.62 -12.88 10.62 -13.38 10.50 -13.50 10.50 -14.00 10.38 -14.12 10.38 -14.62 10.25 -14.75 10.25 -15.25 10.12 -15.38 10.12 -16.00 10.00 -16.12 10.00 -16.38 7.88 -20.62 6.12 -23.12 6.00 -23.50 3.75 -25.75 3.25 -26.00Z"/>
<path id="g24" fill-rule="evenodd" d="M2.62 -9.38 2.62 -8.62 2.88 -8.12 3.62 -7.62 22.38 -7.62 22.88 -7.88 23.38 -8.62 23.38 -9.38 23.12 -9.88 22.38 -10.38 3.62 -10.38 3.12 -10.12Z"/>
<path id="g25" fill-rule="evenodd" d="M11.38 -22.38 10.62 -22.38 10.12 -22.12 7.12 -19.12 5.12 -18.12 4.62 -17.38 4.62 -16.62 4.88 -16.12 5.62 -15.62 6.38 -15.62 8.38 -16.62 8.62 -16.50 8.62 -1.50 8.50 -1.38 5.62 -1.38 5.12 -1.12 4.62 -0.38 4.62 0.38 4.88 0.88 5.62 1.38 15.38 1.38 15.88 1.12 16.38 0.38 16.38 -0.38 16.12 -0.88 15.38 -1.38 12.50 -1.38 12.38 -1.50 12.38 -21.38 12.12 -21.88Z"/>
<path id="g26" fill-rule="evenodd" d="M20.50 -25.88 20.25 -26.00 19.75 -26.00 19.50 -25.88 19.00 -25.38 18.88 -25.00 18.62 -24.75 18.25 -23.88 17.50 -22.75 17.12 -21.88 16.38 -20.75 16.00 -19.88 15.25 -18.75 14.88 -17.88 14.12 -16.75 13.75 -15.88 13.00 -14.75 12.62 -13.88 11.88 -12.75 11.50 -11.88 10.75 -10.75 10.38 -9.88 9.62 -8.75 9.25 -7.88 8.50 -6.75 8.12 -5.88 7.88 -5.62 7.00 -3.88 6.75 -3.62 5.88 -1.88 5.62 -1.62 4.75 0.12 4.50 0.38 3.62 2.12 3.38 2.38 2.50 4.12 2.25 4.38 1.38 6.12 1.12 6.38 1.00 7.25 1.50 7.88 1.75 8.00 2.25 8.00 2.50 7.88 3.00 7.38 3.12 7.00 3.38 6.75 3.75 5.88 4.50 4.75 4.88 3.88 5.62 2.75 6.00 1.88 6.75 0.75 7.12 -0.12 7.88 -1.25 8.25 -2.12 9.00 -3.25 9.38 -4.12 10.12 -5.25 10.50 -6.12 11.25 -7.25 11.62 -8.12 12.38 -9.25 12.75 -10.12 13.50 -11.25 13.88 -12.12 14.12 -12.38 15.00 -14.12 15.25 -14.38 16.12 -16.12 16.38 -16.38 17.25 -18.12 17.50 -18.38 18.38 -20.12 18.62 -20.38 19.50 -22.12 19.75 -22.38 20.62 -24.12 20.88 -24.38 21.00 -25.25Z"/>
<path id="g27" fill-rule="evenodd" d="M20.88 -26.12 20.38 -26.38 19.62 -26.38 19.12 -26.12 18.75 -25.75 17.75 -23.75 17.00 -22.62 16.62 -21.75 15.88 -20.62 15.50 -19.75 14.75 -18.62 14.38 -17.75 13.62 -16.62 13.25 -15.75 12.50 -14.62 12.12 -13.75 11.38 -12.62 11.00 -11.75 10.25 -10.62 9.88 -9.75 9.12 -8.62 8.75 -7.75 8.00 -6.62 7.62 -5.75 6.88 -4.62 6.50 -3.75 5.75 -2.62 5.38 -1.75 4.62 -0.62 4.25 0.25 3.50 1.38 2.00 4.25 1.75 4.50 1.50 5.12 0.75 6.25 0.75 6.50 0.62 6.62 0.62 7.38 1.12 8.12 1.62 8.38 2.38 8.38 2.88 8.12 3.25 7.75 4.25 5.75 5.00 4.62 5.38 3.75 6.12 2.62 6.50 1.75 7.25 0.62 7.62 -0.25 8.38 -1.38 8.75 -2.25 9.50 -3.38 9.88 -4.25 10.62 -5.38 11.00 -6.25 11.75 -7.38 12.12 -8.25 12.88 -9.38 13.25 -10.25 14.00 -11.38 14.38 -12.25 15.12 -13.38 15.50 -14.25 16.25 -15.38 16.62 -16.25 17.38 -17.38 17.75 -18.25 18.50 -19.38 20.00 -22.25 20.25 -22.50 20.50 -23.12 21.25 -24.25 21.25 -24.50 21.38 -24.62 21.38 -25.38Z"/>
<path id="g28" fill-rule="evenodd" d="M4.50 -21.38 2.75 -19.75 1.62 -17.38 1.62 -15.62 1.88 -15.12 3.12 -13.88 3.62 -13.62 4.38 -13.62 4.88 -13.88 6.12 -15.12 6.38 -15.62 6.38 -16.38 6.12 -16.88 5.12 -17.88 5.12 -18.12 5.88 -18.88 6.12 -18.88 7.75 -19.50 8.12 -19.50 8.25 -19.62 11.62 -19.62 13.12 -18.88 13.88 -18.12 14.62 -16.62 14.62 -15.38 14.00 -14.12 13.62 -13.75 11.38 -12.25 5.50 -9.38 5.12 -9.12 2.88 -6.88 2.62 -6.50 2.50 -5.75 2.38 -5.62 1.88 -3.88 1.62 -3.50 1.62 0.38 2.12 1.12 2.62 1.38 3.38 1.38 3.88 1.12 4.38 0.38 4.38 -1.38 4.62 -1.62 5.62 -1.62 6.75 -0.88 7.12 -0.75 7.38 -0.50 7.75 -0.38 8.00 -0.12 8.38 0.00 8.62 0.25 9.00 0.38 9.25 0.62 9.62 0.75 10.25 1.25 10.50 1.25 10.62 1.38 15.38 1.38 15.88 1.12 17.12 -0.12 18.38 -2.50 18.38 -5.38 17.88 -6.12 17.38 -6.38 16.62 -6.38 16.12 -6.12 15.62 -5.38 15.62 -3.62 15.12 -3.12 13.62 -2.38 11.25 -2.38 9.88 -3.00 9.62 -3.00 9.25 -3.25 9.00 -3.25 8.62 -3.50 8.38 -3.50 8.00 -3.75 7.75 -3.75 7.38 -4.00 7.12 -4.00 6.50 -4.38 5.12 -4.38 5.00 -4.50 5.00 -4.75 5.12 -4.88 5.12 -5.12 6.88 -6.88 9.75 -8.25 10.00 -8.25 10.38 -8.50 10.62 -8.50 11.00 -8.75 11.25 -8.75 12.88 -9.50 13.50 -9.62 16.75 -11.75 17.25 -12.25 18.38 -14.62 18.38 -17.38 18.25 -17.50 18.25 -17.75 17.25 -19.75 15.88 -21.12 15.50 -21.38 14.75 -21.50 14.62 -21.62 13.25 -22.00 12.50 -22.38 7.50 -22.38 7.12 -22.12 6.88 -22.12 5.25 -21.50Z"/>
</defs>
<g fill="none" stroke="#2a2a2a" stroke-width="0.38">
<rect x="96.50" y="30.45" width="310.40" height="343.95"/>
<path stroke-width="0.55" d="M111.43 374.40v-3.50M111.43 30.45v3.50M127.90 374.40v-3.50M127.90 30.45v3.50M144.38 374.40v-3.50M144.38 30.45v3.50M160.85 374.40v-7.00M160.85 30.45v7.00M177.32 374.40v-3.50M177.32 30.45v3.50M193.80 374.40v-3.50M193.80 30.45v3.50M210.28 374.40v-3.50M210.28 30.45v3.50M226.75 374.40v-7.00M226.75 30.45v7.00M243.23 374.40v-3.50M243.23 30.45v3.50M259.70 374.40v-3.50M259.70 30.45v3.50M276.18 374.40v-3.50M276.18 30.45v3.50M292.65 374.40v-7.00M292.65 30.45v7.00M309.12 374.40v-3.50M309.12 30.45v3.50M325.60 374.40v-3.50M325.60 30.45v3.50M342.08 374.40v-3.50M342.08 30.45v3.50M358.55 374.40v-7.00M358.55 30.45v7.00M375.03 374.40v-3.50M375.03 30.45v3.50M391.50 374.40v-3.50M391.50 30.45v3.50M96.50 30.45h6.2M406.90 30.45h-6.2M96.50 70.52h3.3M406.90 70.52h-3.3M96.50 60.42h3.3M406.90 60.42h-3.3M96.50 53.26h3.3M406.90 53.26h-3.3M96.50 47.71h3.3M406.90 47.71h-3.3M96.50 43.17h3.3M406.90 43.17h-3.3M96.50 39.33h3.3M406.90 39.33h-3.3M96.50 36.01h3.3M406.90 36.01h-3.3M96.50 33.07h3.3M406.90 33.07h-3.3M96.50 87.77h6.2M406.90 87.77h-6.2M96.50 127.84h3.3M406.90 127.84h-3.3M96.50 117.75h3.3M406.90 117.75h-3.3M96.50 110.59h3.3M406.90 110.59h-3.3M96.50 105.03h3.3M406.90 105.03h-3.3M96.50 100.49h3.3M406.90 100.49h-3.3M96.50 96.65h3.3M406.90 96.65h-3.3M96.50 93.33h3.3M406.90 93.33h-3.3M96.50 90.40h3.3M406.90 90.40h-3.3M96.50 145.10h6.2M406.90 145.10h-6.2M96.50 185.17h3.3M406.90 185.17h-3.3M96.50 175.07h3.3M406.90 175.07h-3.3M96.50 167.91h3.3M406.90 167.91h-3.3M96.50 162.36h3.3M406.90 162.36h-3.3M96.50 157.82h3.3M406.90 157.82h-3.3M96.50 153.98h3.3M406.90 153.98h-3.3M96.50 150.66h3.3M406.90 150.66h-3.3M96.50 147.72h3.3M406.90 147.72h-3.3M96.50 202.42h6.2M406.90 202.42h-6.2M96.50 242.49h3.3M406.90 242.49h-3.3M96.50 232.40h3.3M406.90 232.40h-3.3M96.50 225.24h3.3M406.90 225.24h-3.3M96.50 219.68h3.3M406.90 219.68h-3.3M96.50 215.14h3.3M406.90 215.14h-3.3M96.50 211.30h3.3M406.90 211.30h-3.3M96.50 207.98h3.3M406.90 207.98h-3.3M96.50 205.05h3.3M406.90 205.05h-3.3M96.50 259.75h6.2M406.90 259.75h-6.2M96.50 299.82h3.3M406.90 299.82h-3.3M96.50 289.72h3.3M406.90 289.72h-3.3M96.50 282.56h3.3M406.90 282.56h-3.3M96.50 277.01h3.3M406.90 277.01h-3.3M96.50 272.47h3.3M406.90 272.47h-3.3M96.50 268.63h3.3M406.90 268.63h-3.3M96.50 265.31h3.3M406.90 265.31h-3.3M96.50 262.37h3.3M406.90 262.37h-3.3M96.50 317.07h6.2M406.90 317.07h-6.2M96.50 357.14h3.3M406.90 357.14h-3.3M96.50 347.05h3.3M406.90 347.05h-3.3M96.50 339.89h3.3M406.90 339.89h-3.3M96.50 334.33h3.3M406.90 334.33h-3.3M96.50 329.79h3.3M406.90 329.79h-3.3M96.50 325.95h3.3M406.90 325.95h-3.3M96.50 322.63h3.3M406.90 322.63h-3.3M96.50 319.70h3.3M406.90 319.70h-3.3M96.50 374.40h6.2M406.90 374.40h-6.2"/>
</g>
<g fill="none" stroke-width="1.45" stroke-linejoin="round" stroke-linecap="butt">
<path d="M96.97 61.81 97.69 61.94 98.40 62.08 99.10 62.25 99.79 62.43 100.47 62.63 101.15 62.84 101.81 63.07 102.47 63.32 103.12 63.58 103.76 63.86 104.39 64.15 105.02 64.46 105.63 64.78 106.24 65.11 106.84 65.46 107.43 65.82 108.01 66.20 108.58 66.58 109.15 66.98 109.70 67.39 110.25 67.82 110.79 68.25 111.33 68.70 111.85 69.15 112.37 69.62 112.88 70.10 113.38 70.58 113.87 71.08 114.35 71.58 114.83 72.10 115.29 72.62 115.75 73.15 116.21 73.69 116.65 74.23 117.09 74.79 117.52 75.35 117.94 75.91 118.35 76.49 118.75 77.07 119.15 77.65 119.54 78.24 119.92 78.84 120.29 79.44 120.66 80.04 121.02 80.65 121.37 81.26 121.72 81.87 122.06 82.49 122.40 83.11 122.74 83.73 123.07 84.35 123.41 84.98 123.74 85.60 124.07 86.22 124.40 86.84 124.73 87.46 125.07 88.08 125.40 88.70 125.74 89.32 126.08 89.93 126.43 90.54 126.78 91.14 127.14 91.75 127.51 92.34 127.88 92.93 128.26 93.52 128.65 94.10 129.05 94.67 129.46 95.24 129.88 95.80 130.31 96.35 130.75 96.89 131.21 97.43 131.67 97.95 132.16 98.47 132.66 98.98 133.17 99.47 133.70 99.94 134.24 100.39 134.80 100.79 135.37 101.15 135.96 101.45 136.56 101.68 137.17 101.83 137.79 101.90 138.42 101.87 139.06 101.76 139.70 101.58 140.33 101.33 140.94 101.02 141.54 100.65 142.13 100.24 142.69 99.79 143.25 99.31 143.79 98.80 144.33 98.27 144.86 97.73 145.39 97.19 145.92 96.65 146.44 96.11 146.97 95.59 147.51 95.09 148.05 94.61 148.60 94.17 149.16 93.78 149.74 93.42 150.34 93.13 150.95 92.89 151.58 92.72 151.96 92.60 H406.90" stroke="rgb(255,0,30)"/>
<path d="M97.00 73.28 97.71 73.46 98.40 73.65 99.08 73.88 99.75 74.12 100.39 74.39 101.03 74.68 101.65 74.99 102.26 75.32 102.85 75.67 103.43 76.04 104.00 76.43 104.56 76.83 105.10 77.25 105.64 77.69 106.16 78.14 106.68 78.60 107.18 79.08 107.68 79.57 108.17 80.07 108.64 80.58 109.12 81.11 109.58 81.64 110.03 82.18 110.48 82.73 110.93 83.28 111.36 83.85 111.79 84.41 112.22 84.99 112.64 85.56 113.06 86.15 113.47 86.73 113.88 87.31 114.29 87.90 114.70 88.49 115.10 89.07 115.50 89.66 115.90 90.24 116.30 90.82 116.70 91.40 117.10 91.97 117.50 92.54 117.90 93.10 118.30 93.67 118.70 94.22 119.10 94.78 119.49 95.34 119.89 95.89 120.29 96.44 120.69 96.99 121.09 97.54 121.48 98.10 121.88 98.65 122.28 99.20 122.67 99.76 123.07 100.32 123.46 100.88 123.85 101.45 124.24 102.02 124.63 102.59 125.02 103.17 125.41 103.75 125.79 104.34 126.18 104.94 126.56 105.54 126.94 106.15 127.32 106.77 127.70 107.39 128.08 108.03 128.46 108.67 128.83 109.31 129.21 109.95 129.60 110.58 129.99 111.21 130.40 111.81 130.81 112.41 131.24 112.98 131.68 113.52 132.14 114.03 132.62 114.51 133.11 114.95 133.64 115.35 134.18 115.71 134.75 116.01 135.35 116.26 135.98 116.45 136.62 116.58 137.27 116.66 137.94 116.66 138.61 116.61 139.28 116.51 139.95 116.35 140.61 116.14 141.25 115.90 141.88 115.61 142.51 115.29 143.12 114.94 143.73 114.56 144.33 114.16 144.92 113.75 145.51 113.32 146.10 112.88 146.69 112.44 147.27 111.99 147.86 111.55 148.45 111.12 149.04 110.70 149.64 110.30 150.24 109.92 150.85 109.56 151.46 109.23 152.09 108.94 152.72 108.68 153.37 108.46 154.03 108.29 154.70 108.17 154.98 108.10 H406.90" stroke="rgb(255,0,67)"/>
<path d="M96.88 81.28 97.61 81.49 98.32 81.74 98.99 82.02 99.62 82.33 100.23 82.68 100.82 83.05 101.37 83.45 101.91 83.87 102.42 84.32 102.91 84.79 103.39 85.28 103.85 85.78 104.29 86.30 104.72 86.84 105.15 87.39 105.56 87.95 105.97 88.51 106.37 89.09 106.77 89.67 107.17 90.25 107.57 90.84 107.97 91.42 108.38 92.01 108.79 92.58 109.21 93.16 109.64 93.73 110.07 94.30 110.50 94.86 110.94 95.42 111.38 95.98 111.82 96.54 112.27 97.09 112.71 97.65 113.14 98.20 113.58 98.76 114.01 99.32 114.43 99.87 114.85 100.43 115.26 100.99 115.67 101.56 116.06 102.12 116.45 102.69 116.83 103.26 117.20 103.84 117.57 104.41 117.93 104.99 118.28 105.58 118.63 106.16 118.97 106.75 119.31 107.35 119.64 107.95 119.97 108.55 120.29 109.15 120.61 109.76 120.93 110.37 121.24 110.99 121.55 111.61 121.86 112.23 122.16 112.86 122.46 113.49 122.76 114.13 123.06 114.77 123.36 115.42 123.65 116.07 123.95 116.72 124.24 117.38 124.54 118.05 124.84 118.72 125.13 119.39 125.44 120.07 125.74 120.74 126.05 121.41 126.37 122.07 126.70 122.72 127.05 123.36 127.40 123.98 127.77 124.59 128.16 125.17 128.57 125.73 128.99 126.27 129.44 126.77 129.91 127.25 130.41 127.69 130.94 128.09 131.49 128.46 132.07 128.78 132.68 129.06 133.32 129.29 133.97 129.48 134.64 129.62 135.32 129.71 136.00 129.75 136.69 129.74 137.38 129.67 138.06 129.55 138.74 129.38 139.40 129.17 140.07 128.93 140.72 128.66 141.38 128.38 142.03 128.10 142.68 127.82 143.33 127.54 143.98 127.27 144.63 126.99 145.27 126.72 145.92 126.45 146.57 126.18 147.22 125.92 147.86 125.65 148.51 125.39 149.16 125.14 149.82 124.89 150.47 124.65 151.13 124.41 151.78 124.18 152.44 123.96 153.11 123.75 153.77 123.54 154.44 123.35 155.11 123.17 155.79 123.00 156.47 122.84 157.15 122.70 157.84 122.57 158.53 122.45 159.20 122.40 H406.90" stroke="rgb(255,0,104)"/>
<path d="M96.85 73.02 97.19 73.64 97.52 74.25 97.85 74.88 98.17 75.50 98.49 76.12 98.80 76.75 99.11 77.38 99.42 78.01 99.72 78.64 100.01 79.28 100.30 79.91 100.59 80.55 100.88 81.19 101.16 81.83 101.44 82.47 101.71 83.11 101.99 83.76 102.26 84.40 102.52 85.05 102.79 85.70 103.05 86.34 103.32 86.99 103.58 87.64 103.84 88.29 104.09 88.94 104.35 89.59 104.60 90.25 104.86 90.90 105.11 91.55 105.37 92.20 105.62 92.85 105.87 93.51 106.13 94.16 106.38 94.81 106.63 95.46 106.89 96.12 107.14 96.77 107.40 97.42 107.65 98.07 107.91 98.72 108.17 99.37 108.43 100.02 108.70 100.67 108.96 101.31 109.23 101.96 109.50 102.61 109.77 103.25 110.05 103.90 110.32 104.54 110.60 105.18 110.89 105.82 111.18 106.46 111.47 107.10 111.76 107.73 112.05 108.37 112.34 109.01 112.63 109.64 112.92 110.28 113.20 110.92 113.47 111.57 113.75 112.21 114.01 112.86 114.27 113.51 114.51 114.16 114.76 114.82 114.99 115.48 115.23 116.14 115.46 116.80 115.68 117.46 115.91 118.13 116.13 118.79 116.35 119.46 116.57 120.12 116.79 120.79 117.01 121.45 117.24 122.11 117.47 122.78 117.70 123.44 117.93 124.10 118.18 124.75 118.42 125.41 118.68 126.06 118.94 126.71 119.20 127.36 119.47 128.00 119.75 128.65 120.02 129.29 120.31 129.93 120.59 130.57 120.88 131.21 121.18 131.84 121.47 132.48 121.77 133.11 122.07 133.74 122.37 134.38 122.67 135.01 122.98 135.64 123.29 136.26 123.61 136.89 123.94 137.51 124.27 138.12 124.62 138.72 124.97 139.32 125.34 139.92 125.73 140.50 126.12 141.07 126.54 141.64 126.97 142.19 127.42 142.73 127.89 143.26 128.38 143.77 128.90 144.26 129.44 144.71 130.02 145.11 130.63 145.44 131.28 145.68 131.96 145.83 132.67 145.83 133.35 145.65 134.02 145.35 134.68 145.02 135.34 144.75 136.01 144.59 136.68 144.52 137.36 144.53 138.05 144.61 138.74 144.74 139.43 144.91 140.13 145.11 140.83 145.31 141.52 145.51 142.22 145.70 142.92 145.85 143.61 145.98 144.30 146.07 144.99 146.13 145.68 146.16 146.37 146.17 147.06 146.15 147.74 146.10 148.42 146.04 149.10 145.95 149.78 145.84 150.46 145.71 151.14 145.56 151.81 145.40 152.49 145.22 153.16 145.03 153.83 144.83 154.50 144.61 155.17 144.39 155.83 144.16 156.50 143.92 157.16 143.67 157.83 143.42 158.49 143.17 159.15 142.92 159.81 142.66 160.46 142.41 161.12 142.16 161.78 141.91 162.43 141.67 163.08 141.44 163.74 141.21 164.39 140.99 165.04 140.79 165.16 140.80 H406.90" stroke="rgb(255,0,141)"/>
<path d="M97.10 35.50 97.15 36.20 97.20 36.90 97.26 37.59 97.32 38.29 97.38 38.99 97.45 39.68 97.51 40.38 97.59 41.08 97.66 41.77 97.73 42.47 97.81 43.16 97.89 43.86 97.97 44.56 98.05 45.25 98.13 45.95 98.21 46.64 98.29 47.34 98.37 48.04 98.46 48.73 98.54 49.43 98.62 50.12 98.70 50.82 98.78 51.51 98.86 52.21 98.93 52.91 99.01 53.60 99.08 54.30 99.15 54.99 99.22 55.69 99.29 56.39 99.35 57.08 99.42 57.78 99.48 58.48 99.54 59.17 99.60 59.87 99.66 60.57 99.71 61.26 99.77 61.96 99.82 62.66 99.88 63.35 99.93 64.05 99.98 64.75 100.04 65.45 100.09 66.14 100.14 66.84 100.19 67.54 100.24 68.24 100.29 68.94 100.34 69.64 100.39 70.33 100.44 71.03 100.49 71.73 100.54 72.43 100.60 73.13 100.65 73.83 100.70 74.53 100.76 75.23 100.82 75.93 100.88 76.63 100.94 77.32 101.00 78.02 101.07 78.72 101.13 79.42 101.20 80.12 101.28 80.81 101.36 81.51 101.44 82.20 101.52 82.90 101.61 83.59 101.71 84.29 101.81 84.98 101.91 85.67 102.02 86.36 102.13 87.05 102.25 87.74 102.38 88.43 102.51 89.11 102.64 89.80 102.79 90.48 102.94 91.16 103.09 91.84 103.25 92.52 103.42 93.20 103.58 93.88 103.75 94.56 103.92 95.24 104.09 95.92 104.26 96.60 104.43 97.28 104.60 97.96 104.77 98.64 104.94 99.32 105.10 100.00 105.26 100.69 105.42 101.37 105.58 102.05 105.74 102.73 105.91 103.41 106.09 104.09 106.27 104.77 106.46 105.44 106.66 106.11 106.86 106.78 107.08 107.44 107.31 108.10 107.54 108.76 107.78 109.42 108.02 110.08 108.26 110.73 108.51 111.39 108.76 112.04 109.01 112.70 109.25 113.35 109.50 114.01 109.73 114.67 109.97 115.33 110.19 115.99 110.41 116.65 110.62 117.32 110.83 117.99 111.03 118.66 111.22 119.33 111.41 120.01 111.59 120.68 111.77 121.36 111.95 122.04 112.13 122.72 112.30 123.40 112.47 124.08 112.64 124.76 112.81 125.44 112.97 126.12 113.14 126.80 113.31 127.48 113.49 128.16 113.66 128.84 113.84 129.52 114.02 130.19 114.20 130.87 114.39 131.54 114.59 132.21 114.78 132.88 114.99 133.55 115.20 134.22 115.41 134.88 115.63 135.54 115.85 136.20 116.08 136.86 116.31 137.52 116.54 138.18 116.78 138.84 117.02 139.50 117.26 140.15 117.51 140.81 117.75 141.46 118.00 142.12 118.25 142.77 118.50 143.42 118.75 144.08 119.01 144.73 119.26 145.39 119.52 146.04 119.77 146.69 120.02 147.35 120.28 148.00 120.53 148.66 120.78 149.32 121.04 149.97 121.29 150.63 121.56 151.28 121.83 151.93 122.12 152.57 122.42 153.20 122.75 153.82 123.09 154.42 123.47 155.02 123.87 155.60 124.30 156.16 124.77 156.70 125.28 157.21 125.82 157.68 126.39 158.10 126.98 158.44 127.60 158.70 128.24 158.86 128.91 158.90 129.58 158.83 130.27 158.66 130.96 158.47 131.66 158.29 132.34 158.18 133.02 158.17 133.70 158.25 134.36 158.40 135.02 158.60 135.68 158.83 136.33 159.09 136.99 159.36 137.64 159.65 138.29 159.94 138.95 160.23 139.60 160.51 140.26 160.79 140.93 161.04 141.59 161.27 142.27 161.48 142.94 161.66 143.62 161.82 144.31 161.96 144.99 162.08 145.68 162.17 146.38 162.25 147.07 162.30 147.76 162.33 148.46 162.34 149.15 162.33 149.85 162.31 150.54 162.26 151.24 162.19 151.93 162.11 152.62 162.00 153.31 161.88 154.00 161.75 154.68 161.59 155.36 161.42 156.04 161.23 156.71 161.03 157.38 160.81 158.04 160.57 158.70 160.33 159.36 160.07 160.01 159.81 160.67 159.55 161.32 159.28 161.97 159.02 162.62 158.76 163.28 158.51 163.93 158.26 164.59 158.03 165.25 157.81 165.92 157.61 166.59 157.42 167.27 157.26 167.95 157.12 168.64 157.01 169.34 156.93 169.80 156.90 H406.90" stroke="rgb(255,0,178)"/>
<path d="M97.10 35.50 97.12 36.20 97.15 36.90 97.19 37.60 97.23 38.30 97.28 39.00 97.34 39.70 97.40 40.39 97.46 41.09 97.54 41.79 97.61 42.48 97.69 43.18 97.77 43.87 97.85 44.57 97.94 45.26 98.03 45.96 98.11 46.65 98.20 47.35 98.29 48.04 98.38 48.74 98.47 49.43 98.55 50.13 98.64 50.82 98.72 51.52 98.80 52.21 98.87 52.91 98.94 53.60 99.01 54.30 99.07 55.00 99.13 55.69 99.18 56.39 99.23 57.09 99.28 57.79 99.32 58.49 99.36 59.18 99.40 59.88 99.44 60.58 99.47 61.28 99.50 61.98 99.53 62.68 99.56 63.38 99.59 64.08 99.62 64.78 99.64 65.48 99.67 66.18 99.70 66.88 99.73 67.58 99.75 68.28 99.78 68.98 99.81 69.68 99.85 70.38 99.88 71.08 99.92 71.78 99.96 72.48 100.00 73.18 100.04 73.88 100.09 74.58 100.14 75.27 100.19 75.97 100.24 76.67 100.30 77.37 100.36 78.06 100.42 78.76 100.48 79.46 100.55 80.15 100.62 80.85 100.69 81.55 100.77 82.24 100.85 82.94 100.93 83.63 101.01 84.33 101.09 85.02 101.18 85.72 101.27 86.41 101.37 87.10 101.46 87.79 101.56 88.49 101.66 89.18 101.77 89.87 101.87 90.56 101.98 91.25 102.09 91.94 102.21 92.63 102.32 93.32 102.44 94.01 102.56 94.70 102.68 95.39 102.80 96.08 102.92 96.77 103.05 97.46 103.17 98.15 103.30 98.84 103.42 99.53 103.55 100.21 103.67 100.90 103.80 101.59 103.92 102.28 104.05 102.97 104.17 103.66 104.30 104.35 104.42 105.04 104.54 105.73 104.66 106.42 104.77 107.11 104.89 107.80 105.01 108.49 105.12 109.18 105.23 109.87 105.34 110.56 105.46 111.25 105.57 111.94 105.68 112.63 105.78 113.33 105.89 114.02 106.00 114.71 106.11 115.40 106.22 116.09 106.32 116.78 106.43 117.48 106.54 118.17 106.65 118.86 106.76 119.55 106.87 120.24 106.97 120.93 107.08 121.62 107.19 122.31 107.31 123.01 107.42 123.70 107.53 124.39 107.65 125.08 107.76 125.77 107.88 126.46 108.00 127.15 108.12 127.84 108.24 128.52 108.36 129.21 108.48 129.90 108.61 130.59 108.74 131.28 108.87 131.96 109.00 132.65 109.14 133.34 109.28 134.02 109.42 134.71 109.56 135.39 109.70 136.08 109.85 136.76 110.00 137.44 110.16 138.13 110.31 138.81 110.47 139.49 110.64 140.17 110.80 140.85 110.97 141.53 111.14 142.21 111.32 142.89 111.49 143.57 111.67 144.25 111.85 144.92 112.04 145.60 112.22 146.28 112.40 146.95 112.59 147.63 112.78 148.31 112.96 148.98 113.15 149.66 113.33 150.33 113.52 151.01 113.70 151.68 113.89 152.36 114.07 153.03 114.25 153.71 114.43 154.38 114.61 155.06 114.78 155.74 114.96 156.41 115.13 157.09 115.30 157.76 115.48 158.44 115.66 159.11 115.84 159.79 116.03 160.46 116.23 161.13 116.44 161.80 116.66 162.46 116.89 163.13 117.13 163.79 117.39 164.45 117.67 165.10 117.97 165.74 118.30 166.37 118.66 166.98 119.05 167.58 119.48 168.15 119.94 168.71 120.45 169.22 121.00 169.65 121.59 169.99 122.24 170.19 122.92 170.26 123.63 170.25 124.35 170.22 125.05 170.25 125.72 170.38 126.35 170.62 126.97 170.94 127.56 171.31 128.15 171.71 128.74 172.11 129.33 172.49 129.92 172.86 130.52 173.22 131.13 173.57 131.73 173.90 132.35 174.23 132.96 174.54 133.59 174.85 134.21 175.15 134.85 175.43 135.48 175.71 136.12 175.98 136.77 176.25 137.42 176.50 138.08 176.75 138.74 176.98 139.41 177.21 140.07 177.43 140.75 177.64 141.42 177.84 142.10 178.03 142.78 178.21 143.46 178.38 144.15 178.54 144.84 178.70 145.53 178.84 146.22 178.97 146.92 179.09 147.62 179.19 148.31 179.29 149.01 179.38 149.71 179.45 150.41 179.52 151.11 179.57 151.81 179.61 152.52 179.64 153.22 179.66 153.92 179.66 154.62 179.65 155.32 179.63 156.01 179.60 156.71 179.55 157.41 179.49 158.10 179.42 158.79 179.34 159.48 179.24 160.17 179.13 160.86 179.00 161.54 178.86 162.22 178.71 162.90 178.54 163.57 178.36 164.24 178.16 164.91 177.95 165.57 177.72 166.23 177.49 166.89 177.24 167.55 176.99 168.20 176.74 168.86 176.49 169.52 176.24 170.17 175.99 170.83 175.75 171.49 175.53 172.16 175.31 172.83 175.12 173.50 174.94 174.18 174.78 174.86 174.65 175.56 174.54 176.25 174.47 176.96 174.42 177.61 174.40 H406.90" stroke="rgb(255,0,215)"/>
<path d="M97.10 35.50 97.12 36.20 97.15 36.90 97.18 37.60 97.23 38.30 97.28 39.00 97.33 39.69 97.39 40.39 97.46 41.09 97.53 41.78 97.61 42.48 97.68 43.18 97.77 43.87 97.85 44.57 97.93 45.26 98.02 45.96 98.11 46.66 98.19 47.35 98.28 48.05 98.36 48.74 98.44 49.44 98.52 50.13 98.60 50.83 98.67 51.52 98.74 52.22 98.81 52.92 98.86 53.61 98.92 54.31 98.96 55.01 99.00 55.71 99.04 56.41 99.07 57.10 99.10 57.80 99.12 58.50 99.14 59.20 99.16 59.90 99.18 60.60 99.19 61.30 99.20 62.00 99.21 62.70 99.22 63.40 99.23 64.10 99.25 64.80 99.26 65.50 99.27 66.20 99.28 66.90 99.29 67.60 99.30 68.30 99.31 69.00 99.32 69.70 99.34 70.40 99.35 71.10 99.36 71.80 99.38 72.51 99.39 73.21 99.41 73.91 99.42 74.61 99.44 75.31 99.45 76.01 99.47 76.71 99.49 77.41 99.51 78.11 99.53 78.81 99.56 79.51 99.58 80.21 99.60 80.91 99.63 81.61 99.66 82.30 99.68 83.00 99.71 83.70 99.74 84.40 99.78 85.10 99.81 85.80 99.85 86.50 99.88 87.20 99.92 87.90 99.96 88.60 100.00 89.29 100.04 89.99 100.08 90.69 100.12 91.39 100.17 92.09 100.21 92.79 100.26 93.48 100.31 94.18 100.35 94.88 100.40 95.58 100.45 96.28 100.51 96.97 100.56 97.67 100.61 98.37 100.67 99.07 100.72 99.76 100.78 100.46 100.84 101.16 100.90 101.85 100.96 102.55 101.02 103.25 101.08 103.95 101.14 104.64 101.20 105.34 101.27 106.04 101.33 106.73 101.39 107.43 101.46 108.13 101.53 108.82 101.60 109.52 101.66 110.22 101.73 110.91 101.80 111.61 101.87 112.31 101.94 113.00 102.02 113.70 102.09 114.40 102.16 115.09 102.24 115.79 102.31 116.48 102.39 117.18 102.46 117.88 102.54 118.57 102.61 119.27 102.69 119.96 102.77 120.66 102.85 121.36 102.93 122.05 103.01 122.75 103.09 123.44 103.17 124.14 103.25 124.84 103.33 125.53 103.41 126.23 103.49 126.92 103.57 127.62 103.66 128.31 103.74 129.01 103.82 129.71 103.91 130.40 104.00 131.10 104.08 131.79 104.17 132.49 104.26 133.18 104.35 133.88 104.44 134.57 104.53 135.26 104.62 135.96 104.72 136.65 104.81 137.35 104.91 138.04 105.01 138.73 105.11 139.43 105.21 140.12 105.31 140.81 105.42 141.50 105.52 142.19 105.63 142.89 105.74 143.58 105.85 144.27 105.96 144.96 106.08 145.65 106.19 146.34 106.31 147.03 106.43 147.72 106.56 148.40 106.68 149.09 106.81 149.78 106.94 150.47 107.07 151.15 107.20 151.84 107.34 152.52 107.48 153.21 107.62 153.89 107.76 154.58 107.91 155.26 108.06 155.94 108.21 156.63 108.37 157.31 108.53 157.99 108.69 158.67 108.86 159.34 109.04 160.02 109.23 160.69 109.42 161.37 109.61 162.04 109.82 162.71 110.04 163.38 110.26 164.04 110.49 164.70 110.73 165.36 110.99 166.02 111.25 166.68 111.53 167.32 111.82 167.97 112.12 168.60 112.44 169.23 112.77 169.85 113.12 170.45 113.49 171.05 113.88 171.62 114.28 172.19 114.72 172.72 115.18 173.23 115.70 173.70 116.27 174.11 116.86 174.51 117.42 174.92 117.92 175.38 118.39 175.88 118.82 176.40 119.25 176.93 119.67 177.47 120.09 178.02 120.52 178.56 120.96 179.11 121.40 179.65 121.85 180.20 122.30 180.74 122.75 181.28 123.22 181.82 123.69 182.35 124.16 182.88 124.64 183.40 125.13 183.92 125.63 184.43 126.13 184.94 126.63 185.43 127.15 185.92 127.67 186.40 128.20 186.86 128.73 187.32 129.28 187.77 129.83 188.20 130.39 188.62 130.95 189.02 131.53 189.41 132.11 189.79 132.70 190.15 133.30 190.49 133.91 190.82 134.53 191.12 135.15 191.41 135.79 191.68 136.43 191.94 137.08 192.18 137.74 192.40 138.40 192.61 139.07 192.81 139.74 192.99 140.42 193.16 141.10 193.32 141.79 193.48 142.48 193.62 143.17 193.76 143.87 193.89 144.57 194.01 145.27 194.13 145.97 194.25 146.67 194.36 147.37 194.47 148.07 194.58 148.77 194.69 149.47 194.80 150.16 194.91 150.86 195.02 151.55 195.14 152.24 195.25 152.93 195.36 153.62 195.47 154.30 195.57 154.99 195.67 155.68 195.76 156.37 195.84 157.06 195.91 157.75 195.97 158.44 196.02 159.13 196.06 159.82 196.08 160.52 196.08 161.22 196.07 161.92 196.05 162.62 196.01 163.32 195.96 164.02 195.89 164.72 195.81 165.42 195.72 166.12 195.62 166.81 195.51 167.50 195.38 168.20 195.25 168.88 195.10 169.57 194.94 170.25 194.78 170.93 194.61 171.61 194.43 172.29 194.24 172.97 194.06 173.64 193.87 174.32 193.67 174.99 193.48 175.67 193.29 176.34 193.10 177.01 192.91 177.69 192.73 178.36 192.55 179.04 192.37 179.72 192.21 180.40 192.05 181.08 191.90 181.76 191.76 182.45 191.63 183.14 191.52 183.83 191.42 184.52 191.34 185.22 191.27 185.92 191.21 186.63 191.18 186.81 191.20 H406.90" stroke="rgb(255,0,252)"/>
<path d="M99.50 161.90 99.79 162.43 100.02 163.01 100.18 163.65 100.29 164.32 100.36 165.03 100.40 165.78 100.41 166.54 100.41 167.32 100.40 168.11 100.40 168.90 100.40 169.69 100.42 170.46 100.48 171.22 100.57 171.95 100.71 172.66 100.90 173.32 101.15 173.94 101.48 174.51 101.90 175.02 102.39 175.46 102.96 175.82 103.60 176.08 104.27 176.28 104.96 176.46 105.61 176.68 106.20 176.99 106.72 177.40 107.19 177.90 107.62 178.45 108.02 179.05 108.40 179.67 108.79 180.29 109.18 180.88 109.59 181.47 110.00 182.04 110.42 182.60 110.85 183.15 111.27 183.70 111.70 184.24 112.13 184.79 112.56 185.34 112.98 185.89 113.41 186.45 113.83 187.01 114.25 187.57 114.68 188.13 115.10 188.69 115.52 189.25 115.95 189.81 116.38 190.37 116.81 190.92 117.25 191.47 117.69 192.01 118.13 192.55 118.58 193.08 119.04 193.61 119.50 194.13 119.97 194.64 120.44 195.15 120.92 195.66 121.41 196.15 121.90 196.65 122.41 197.13 122.92 197.61 123.44 198.08 123.97 198.54 124.50 199.00 125.04 199.44 125.59 199.88 126.15 200.32 126.71 200.74 127.28 201.16 127.86 201.57 128.44 201.97 129.03 202.36 129.62 202.74 130.22 203.11 130.82 203.48 131.43 203.83 132.04 204.18 132.66 204.52 133.28 204.84 133.91 205.16 134.53 205.47 135.17 205.77 135.80 206.05 136.44 206.33 137.08 206.60 137.73 206.86 138.38 207.11 139.03 207.36 139.68 207.59 140.34 207.82 141.00 208.04 141.66 208.26 142.32 208.47 142.99 208.67 143.66 208.86 144.33 209.06 145.00 209.24 145.67 209.43 146.35 209.61 147.03 209.78 147.71 209.95 148.39 210.12 149.07 210.29 149.75 210.45 150.44 210.61 151.12 210.77 151.81 210.93 152.50 211.09 153.19 211.24 153.88 211.39 154.57 211.53 155.26 211.67 155.95 211.81 156.65 211.94 157.34 212.07 158.03 212.19 158.73 212.31 159.42 212.42 160.12 212.52 160.81 212.62 161.51 212.71 162.21 212.80 162.90 212.87 163.60 212.94 164.30 213.00 164.99 213.05 165.69 213.09 166.39 213.12 167.08 213.15 167.78 213.16 168.47 213.16 169.17 213.15 169.86 213.13 170.56 213.10 171.25 213.06 171.95 213.01 172.64 212.95 173.33 212.87 174.02 212.79 174.71 212.70 175.41 212.60 176.10 212.50 176.79 212.39 177.48 212.27 178.17 212.14 178.86 212.01 179.54 211.88 180.23 211.74 180.92 211.59 181.61 211.45 182.30 211.30 182.98 211.14 183.67 210.99 184.36 210.84 185.05 210.68 185.73 210.53 186.42 210.37 187.11 210.22 187.79 210.06 188.48 209.91 189.16 209.77 189.85 209.62 190.54 209.48 191.22 209.34 191.91 209.21 192.59 209.09 193.28 208.96 193.96 208.85 194.65 208.74 195.33 208.64 196.02 208.55 196.71 208.46 196.98 208.50 H406.90" stroke="rgb(221,0,255)"/>
<path d="M100.00 196.00 100.02 196.69 100.04 197.38 100.07 198.08 100.09 198.77 100.12 199.47 100.14 200.16 100.17 200.86 100.20 201.56 100.23 202.26 100.26 202.96 100.29 203.67 100.32 204.37 100.35 205.07 100.38 205.77 100.42 206.48 100.45 207.18 100.49 207.88 100.52 208.59 100.56 209.29 100.60 209.99 100.64 210.70 100.68 211.40 100.72 212.10 100.76 212.81 100.80 213.51 100.84 214.21 100.88 214.91 100.93 215.61 100.97 216.31 101.02 217.00 101.06 217.70 101.11 218.40 101.16 219.09 101.20 219.78 101.25 220.47 101.30 221.16 101.35 221.85 101.40 222.54 101.46 223.22 101.51 223.90 101.56 224.58 101.62 225.26 101.68 225.95 101.74 226.63 101.81 227.33 101.89 228.03 101.98 228.74 102.07 229.47 102.18 230.21 102.31 230.97 102.45 231.75 102.61 232.55 102.78 233.36 102.98 234.15 103.20 234.90 103.44 235.58 103.71 236.16 104.02 236.62 104.35 236.92 104.72 237.04 105.12 236.96 105.54 236.72 105.97 236.34 106.40 235.85 106.80 235.30 107.18 234.71 107.53 234.08 107.85 233.43 108.15 232.75 108.42 232.06 108.68 231.34 108.91 230.62 109.14 229.90 109.35 229.17 109.55 228.44 109.75 227.72 109.94 227.01 110.12 226.30 110.30 225.61 110.48 224.92 110.66 224.24 110.83 223.56 111.01 222.89 111.19 222.23 111.36 221.57 111.55 220.91 111.73 220.25 111.92 219.60 112.12 218.95 112.32 218.30 112.53 217.65 112.75 217.00 112.98 216.35 113.22 215.70 113.47 215.04 113.74 214.39 114.01 213.73 114.30 213.06 114.61 212.39 114.94 211.73 115.29 211.08 115.68 210.49 116.12 209.97 116.61 209.55 117.17 209.25 117.78 209.06 118.43 208.98 119.10 209.00 119.78 209.10 120.46 209.28 121.12 209.54 121.75 209.85 122.35 210.21 122.94 210.61 123.51 211.04 124.07 211.48 124.62 211.94 125.18 212.39 125.74 212.84 126.30 213.27 126.87 213.71 127.44 214.13 128.02 214.55 128.60 214.96 129.18 215.36 129.76 215.76 130.35 216.15 130.94 216.54 131.54 216.92 132.13 217.29 132.73 217.65 133.34 218.01 133.94 218.37 134.55 218.71 135.16 219.05 135.78 219.39 136.40 219.71 137.02 220.04 137.64 220.35 138.26 220.66 138.89 220.96 139.52 221.26 140.16 221.55 140.79 221.84 141.43 222.12 142.07 222.39 142.71 222.66 143.36 222.92 144.00 223.18 144.65 223.43 145.31 223.68 145.96 223.92 146.62 224.15 147.27 224.38 147.93 224.60 148.59 224.82 149.26 225.03 149.92 225.24 150.59 225.44 151.26 225.64 151.93 225.83 152.60 226.01 153.28 226.20 153.95 226.37 154.63 226.54 155.31 226.71 155.99 226.87 156.67 227.02 157.35 227.17 158.04 227.32 158.72 227.46 159.41 227.60 160.10 227.73 160.79 227.85 161.48 227.98 162.17 228.09 162.86 228.21 163.55 228.31 164.25 228.42 164.94 228.52 165.64 228.61 166.33 228.70 167.03 228.79 167.73 228.87 168.43 228.94 169.13 229.02 169.83 229.08 170.53 229.15 171.23 229.21 171.93 229.26 172.63 229.32 173.33 229.36 174.04 229.40 174.74 229.44 175.44 229.47 176.14 229.50 176.85 229.52 177.55 229.54 178.25 229.55 178.95 229.56 179.66 229.56 180.36 229.55 181.06 229.54 181.76 229.53 182.46 229.50 183.16 229.47 183.86 229.44 184.56 229.40 185.26 229.35 185.96 229.30 186.65 229.24 187.35 229.17 188.04 229.10 188.74 229.02 189.43 228.93 190.12 228.83 190.81 228.73 191.50 228.62 192.19 228.51 192.88 228.38 193.57 228.25 194.25 228.11 194.93 227.97 195.61 227.81 196.29 227.65 196.97 227.49 197.65 227.32 198.33 227.15 199.01 226.97 199.69 226.80 200.37 226.64 201.05 226.48 201.73 226.32 202.41 226.17 203.09 226.03 203.78 225.90 204.47 225.79 205.16 225.68 205.85 225.60 206.55 225.53 207.25 225.48 207.30 225.50 H406.90" stroke="rgb(184,0,255)"/>
<path d="M101.70 239.50 101.73 240.21 101.77 240.93 101.81 241.63 101.86 242.34 101.91 243.04 101.97 243.74 102.03 244.44 102.10 245.14 102.17 245.83 102.25 246.53 102.32 247.22 102.40 247.91 102.49 248.60 102.57 249.29 102.66 249.97 102.75 250.66 102.84 251.35 102.94 252.03 103.03 252.72 103.12 253.41 103.22 254.09 103.31 254.78 103.41 255.47 103.50 256.16 103.59 256.85 103.68 257.54 103.77 258.23 103.86 258.92 103.94 259.62 104.03 260.32 104.11 261.02 104.18 261.72 104.26 262.43 104.33 263.14 104.40 263.85 104.47 264.56 104.54 265.27 104.61 265.99 104.68 266.71 104.76 267.43 104.85 268.15 104.94 268.87 105.04 269.59 105.15 270.31 105.27 271.04 105.41 271.73 105.58 272.35 105.80 272.83 106.08 273.11 106.43 273.15 106.85 272.97 107.32 272.61 107.82 272.13 108.34 271.57 108.86 270.97 109.36 270.38 109.85 269.80 110.32 269.24 110.78 268.68 111.23 268.13 111.67 267.57 112.09 267.01 112.51 266.45 112.92 265.88 113.32 265.30 113.71 264.72 114.09 264.14 114.46 263.55 114.82 262.95 115.17 262.35 115.52 261.75 115.86 261.14 116.18 260.53 116.50 259.91 116.81 259.29 117.12 258.67 117.41 258.04 117.70 257.40 117.97 256.77 118.24 256.13 118.51 255.48 118.76 254.84 119.01 254.19 119.25 253.53 119.48 252.87 119.70 252.21 119.92 251.55 120.13 250.88 120.33 250.21 120.52 249.54 120.71 248.86 120.89 248.18 121.07 247.50 121.23 246.81 121.39 246.13 121.55 245.44 121.70 244.75 121.84 244.05 121.97 243.35 122.10 242.66 122.22 241.96 122.34 241.25 122.46 240.55 122.58 239.85 122.70 239.15 122.82 238.45 122.96 237.76 123.11 237.07 123.27 236.38 123.45 235.71 123.65 235.04 123.86 234.37 124.11 233.72 124.38 233.08 124.68 232.45 125.01 231.83 125.37 231.23 125.78 230.64 126.22 230.09 126.69 229.60 127.20 229.20 127.74 228.93 128.31 228.80 128.90 228.79 129.52 228.89 130.15 229.08 130.80 229.34 131.45 229.66 132.11 230.01 132.77 230.38 133.42 230.74 134.08 231.11 134.73 231.47 135.37 231.82 136.01 232.18 136.65 232.52 137.29 232.87 137.92 233.21 138.55 233.54 139.18 233.87 139.81 234.20 140.43 234.52 141.06 234.84 141.68 235.16 142.30 235.47 142.93 235.78 143.55 236.08 144.17 236.38 144.80 236.68 145.42 236.97 146.04 237.26 146.67 237.54 147.30 237.82 147.92 238.09 148.55 238.37 149.19 238.63 149.82 238.90 150.46 239.16 151.10 239.41 151.74 239.66 152.39 239.91 153.04 240.16 153.69 240.40 154.34 240.63 155.00 240.86 155.66 241.09 156.32 241.31 156.98 241.53 157.65 241.74 158.31 241.95 158.98 242.16 159.65 242.36 160.32 242.56 161.00 242.75 161.67 242.94 162.35 243.12 163.03 243.30 163.71 243.48 164.39 243.65 165.07 243.81 165.76 243.97 166.45 244.13 167.13 244.28 167.82 244.43 168.51 244.57 169.20 244.71 169.89 244.84 170.58 244.97 171.28 245.10 171.97 245.21 172.66 245.33 173.36 245.44 174.05 245.54 174.75 245.64 175.44 245.73 176.14 245.82 176.84 245.91 177.54 245.99 178.23 246.06 178.93 246.13 179.63 246.19 180.33 246.25 181.02 246.31 181.72 246.36 182.42 246.40 183.12 246.44 183.82 246.47 184.52 246.50 185.22 246.53 185.92 246.55 186.61 246.56 187.31 246.57 188.01 246.58 188.71 246.57 189.41 246.57 190.11 246.56 190.81 246.54 191.51 246.52 192.20 246.50 192.90 246.47 193.60 246.43 194.30 246.39 194.99 246.34 195.69 246.29 196.39 246.24 197.08 246.18 197.78 246.11 198.48 246.04 199.17 245.96 199.86 245.88 200.56 245.80 201.25 245.71 201.95 245.61 202.64 245.51 203.33 245.40 204.02 245.29 204.71 245.18 205.40 245.06 206.09 244.93 206.78 244.80 207.47 244.67 208.16 244.54 208.85 244.40 209.54 244.27 210.23 244.13 210.91 243.99 211.60 243.86 212.29 243.73 212.98 243.60 213.67 243.48 214.36 243.36 215.05 243.25 215.74 243.14 216.43 243.04 217.13 242.95 217.82 242.87 218.51 242.79 219.21 242.73 219.91 242.68 220.61 242.64 221.30 242.61 222.01 242.60 222.71 242.60 223.00 242.60 H406.90" stroke="rgb(147,0,255)"/>
<path d="M102.52 262.50 102.36 263.12 102.24 263.77 102.17 264.43 102.14 265.10 102.15 265.79 102.21 266.49 102.30 267.19 102.43 267.90 102.60 268.61 102.80 269.32 103.03 270.02 103.30 270.73 103.60 271.42 103.93 272.11 104.28 272.79 104.67 273.45 105.08 274.09 105.51 274.72 105.97 275.33 106.45 275.91 106.95 276.47 107.46 277.00 108.00 277.50 108.55 277.97 109.12 278.40 109.70 278.80 110.29 279.16 110.90 279.48 111.51 279.75 112.14 279.98 112.77 280.15 113.40 280.28 114.05 280.36 114.69 280.37 115.33 280.34 115.98 280.24 116.63 280.09 117.27 279.89 117.91 279.65 118.54 279.36 119.17 279.03 119.78 278.66 120.39 278.26 120.99 277.83 121.57 277.37 122.14 276.88 122.70 276.37 123.23 275.85 123.75 275.30 124.25 274.75 124.72 274.18 125.18 273.61 125.60 273.04 126.01 272.46 126.39 271.88 126.75 271.29 127.10 270.70 127.42 270.10 127.72 269.49 128.01 268.88 128.28 268.25 128.53 267.62 128.77 266.98 129.00 266.33 129.22 265.67 129.42 264.99 129.62 264.31 129.80 263.61 129.98 262.89 130.15 262.17 130.31 261.43 130.48 260.69 130.64 259.94 130.81 259.19 130.98 258.44 131.16 257.70 131.35 256.96 131.55 256.23 131.77 255.52 132.00 254.82 132.25 254.14 132.52 253.48 132.82 252.85 133.14 252.24 133.49 251.66 133.87 251.12 134.28 250.62 134.73 250.15 135.22 249.72 135.75 249.34 136.31 249.01 136.90 248.74 137.51 248.51 138.15 248.35 138.81 248.25 139.48 248.21 140.16 248.24 140.85 248.31 141.55 248.43 142.25 248.60 142.94 248.79 143.64 249.02 144.33 249.27 145.00 249.53 145.67 249.81 146.32 250.10 146.96 250.39 147.60 250.69 148.23 250.99 148.86 251.30 149.49 251.60 150.12 251.90 150.75 252.20 151.38 252.49 152.01 252.78 152.65 253.07 153.28 253.36 153.92 253.63 154.56 253.91 155.21 254.18 155.85 254.45 156.50 254.72 157.14 254.98 157.79 255.24 158.45 255.49 159.10 255.74 159.75 255.99 160.41 256.23 161.07 256.47 161.73 256.70 162.39 256.94 163.05 257.16 163.71 257.39 164.38 257.61 165.05 257.82 165.71 258.04 166.38 258.24 167.05 258.45 167.73 258.65 168.40 258.85 169.07 259.04 169.75 259.23 170.43 259.41 171.10 259.59 171.78 259.77 172.46 259.94 173.14 260.11 173.83 260.27 174.51 260.44 175.19 260.59 175.88 260.74 176.56 260.89 177.25 261.04 177.94 261.18 178.63 261.31 179.32 261.45 180.01 261.57 180.70 261.70 181.39 261.82 182.08 261.93 182.77 262.04 183.47 262.15 184.16 262.25 184.85 262.35 185.55 262.45 186.24 262.54 186.94 262.62 187.64 262.70 188.33 262.78 189.03 262.85 189.73 262.92 190.43 262.98 191.12 263.04 191.82 263.10 192.52 263.15 193.22 263.20 193.92 263.24 194.62 263.28 195.32 263.31 196.02 263.34 196.72 263.36 197.42 263.38 198.12 263.40 198.82 263.41 199.52 263.41 200.22 263.42 200.92 263.41 201.61 263.41 202.31 263.39 203.01 263.38 203.71 263.36 204.41 263.33 205.11 263.30 205.81 263.26 206.50 263.22 207.20 263.18 207.90 263.13 208.59 263.08 209.29 263.02 209.99 262.96 210.68 262.90 211.38 262.83 212.07 262.76 212.77 262.69 213.47 262.61 214.16 262.53 214.85 262.45 215.55 262.37 216.24 262.28 216.94 262.20 217.63 262.11 218.33 262.02 219.02 261.93 219.71 261.84 220.41 261.75 221.10 261.66 221.80 261.56 222.49 261.47 223.18 261.38 223.88 261.29 224.57 261.19 225.27 261.10 225.96 261.01 226.66 260.92 227.35 260.84 228.05 260.75 228.74 260.66 229.43 260.58 230.13 260.50 230.83 260.42 231.52 260.35 232.22 260.27 232.91 260.20 233.61 260.14 234.30 260.07 235.00 260.01 235.70 259.96 236.40 259.91 237.09 259.86 237.79 259.81 238.49 259.77 238.99 259.80 H406.90" stroke="rgb(110,0,255)"/>
<path d="M102.01 275.02 102.29 275.67 102.60 276.30 102.92 276.92 103.27 277.52 103.65 278.11 104.04 278.68 104.45 279.23 104.89 279.78 105.34 280.30 105.81 280.81 106.29 281.31 106.80 281.79 107.32 282.26 107.85 282.71 108.40 283.15 108.97 283.57 109.55 283.98 110.14 284.37 110.74 284.75 111.36 285.11 111.99 285.46 112.63 285.80 113.27 286.12 113.93 286.42 114.59 286.71 115.27 286.99 115.95 287.25 116.63 287.49 117.33 287.73 118.02 287.94 118.72 288.14 119.43 288.33 120.13 288.49 120.84 288.63 121.54 288.75 122.25 288.85 122.94 288.91 123.63 288.95 124.32 288.95 124.99 288.92 125.66 288.86 126.32 288.76 126.96 288.63 127.60 288.47 128.23 288.28 128.85 288.06 129.46 287.80 130.06 287.53 130.65 287.22 131.24 286.90 131.81 286.54 132.38 286.17 132.94 285.78 133.50 285.36 134.04 284.93 134.58 284.48 135.12 284.02 135.64 283.54 136.16 283.05 136.68 282.55 137.19 282.03 137.69 281.51 138.19 280.98 138.68 280.44 139.17 279.90 139.66 279.35 140.14 278.80 140.61 278.24 141.08 277.69 141.55 277.14 142.02 276.58 142.49 276.04 142.97 275.49 143.44 274.95 143.92 274.42 144.40 273.90 144.89 273.38 145.39 272.87 145.90 272.38 146.41 271.90 146.94 271.43 147.48 270.98 148.03 270.54 148.59 270.12 149.17 269.72 149.76 269.34 150.36 268.98 150.97 268.65 151.58 268.34 152.21 268.06 152.85 267.81 153.49 267.58 154.14 267.39 154.80 267.24 155.46 267.12 156.13 267.03 156.80 266.99 157.47 266.98 158.15 267.00 158.83 267.06 159.52 267.14 160.20 267.25 160.88 267.39 161.57 267.54 162.25 267.72 162.94 267.91 163.62 268.12 164.30 268.34 164.97 268.57 165.64 268.80 166.31 269.05 166.98 269.29 167.64 269.55 168.30 269.81 168.96 270.07 169.61 270.34 170.27 270.60 170.92 270.87 171.57 271.15 172.22 271.42 172.87 271.69 173.52 271.96 174.17 272.23 174.82 272.50 175.47 272.77 176.12 273.03 176.77 273.29 177.43 273.54 178.08 273.79 178.74 274.04 179.40 274.28 180.06 274.51 180.72 274.74 181.38 274.96 182.04 275.18 182.71 275.39 183.38 275.60 184.05 275.81 184.72 276.00 185.39 276.20 186.06 276.39 186.74 276.57 187.41 276.75 188.09 276.92 188.77 277.09 189.44 277.25 190.12 277.41 190.81 277.57 191.49 277.72 192.17 277.86 192.86 278.00 193.54 278.14 194.23 278.27 194.92 278.40 195.61 278.52 196.29 278.64 196.98 278.76 197.68 278.86 198.37 278.97 199.06 279.07 199.75 279.17 200.45 279.26 201.14 279.35 201.84 279.43 202.53 279.51 203.23 279.59 203.93 279.66 204.63 279.73 205.32 279.79 206.02 279.85 206.72 279.91 207.42 279.96 208.12 280.01 208.82 280.05 209.52 280.09 210.22 280.13 210.92 280.16 211.63 280.19 212.33 280.21 213.03 280.24 213.73 280.25 214.43 280.27 215.14 280.28 215.84 280.29 216.54 280.29 217.24 280.29 217.94 280.29 218.65 280.28 219.35 280.27 220.05 280.26 220.75 280.24 221.45 280.22 222.15 280.20 222.86 280.17 223.56 280.14 224.26 280.11 224.96 280.07 225.66 280.04 226.36 279.99 227.06 279.95 227.75 279.90 228.45 279.85 229.15 279.80 229.85 279.74 230.54 279.68 231.24 279.62 231.94 279.56 232.63 279.49 233.33 279.43 234.02 279.36 234.72 279.29 235.41 279.22 236.11 279.15 236.80 279.07 237.50 279.00 238.19 278.92 238.88 278.85 239.58 278.77 240.27 278.69 240.97 278.62 241.66 278.54 242.35 278.47 243.05 278.39 243.74 278.31 244.44 278.24 245.13 278.17 245.83 278.09 246.52 278.02 247.22 277.95 247.91 277.88 248.61 277.82 249.30 277.75 250.00 277.69 250.69 277.62 251.39 277.57 252.09 277.51 252.79 277.45 253.48 277.40 254.18 277.35 254.88 277.31 255.58 277.27 256.28 277.23 256.98 277.19 257.68 277.16 258.39 277.13 259.09 277.11 259.79 277.09 260.50 277.07 261.01 277.10 H406.90" stroke="rgb(73,0,255)"/>
<path d="M99.79 282.93 99.85 283.59 99.92 284.27 99.99 284.97 100.07 285.68 100.16 286.40 100.27 287.13 100.38 287.87 100.51 288.61 100.66 289.34 100.83 290.07 101.01 290.78 101.22 291.48 101.45 292.17 101.71 292.83 102.00 293.47 102.31 294.08 102.66 294.66 103.04 295.20 103.45 295.71 103.90 296.17 104.38 296.59 104.89 296.97 105.43 297.31 106.00 297.62 106.60 297.89 107.21 298.14 107.85 298.35 108.50 298.53 109.17 298.68 109.86 298.81 110.55 298.92 111.25 299.00 111.96 299.07 112.67 299.12 113.39 299.15 114.10 299.16 114.81 299.17 115.52 299.16 116.23 299.14 116.94 299.12 117.65 299.08 118.35 299.04 119.06 299.00 119.76 298.95 120.47 298.90 121.17 298.85 121.87 298.81 122.58 298.76 123.28 298.72 123.99 298.68 124.69 298.65 125.39 298.62 126.10 298.61 126.81 298.61 127.51 298.61 128.22 298.63 128.93 298.66 129.64 298.69 130.35 298.73 131.05 298.77 131.76 298.82 132.47 298.87 133.18 298.92 133.88 298.97 134.59 299.02 135.30 299.07 136.00 299.11 136.70 299.15 137.40 299.19 138.10 299.22 138.80 299.24 139.49 299.25 140.18 299.25 140.87 299.24 141.56 299.22 142.25 299.18 142.93 299.13 143.61 299.06 144.28 298.98 144.95 298.87 145.62 298.75 146.29 298.61 146.95 298.45 147.61 298.27 148.26 298.07 148.91 297.86 149.56 297.63 150.21 297.38 150.85 297.13 151.49 296.86 152.13 296.58 152.77 296.29 153.41 295.99 154.05 295.68 154.68 295.37 155.32 295.05 155.95 294.72 156.58 294.39 157.22 294.05 157.85 293.71 158.48 293.37 159.12 293.03 159.75 292.69 160.39 292.35 161.02 292.01 161.66 291.67 162.30 291.34 162.94 291.01 163.58 290.69 164.22 290.37 164.86 290.05 165.51 289.75 166.15 289.44 166.80 289.15 167.45 288.87 168.10 288.59 168.75 288.32 169.41 288.06 170.06 287.82 170.72 287.58 171.38 287.36 172.04 287.15 172.70 286.95 173.37 286.77 174.04 286.60 174.71 286.44 175.38 286.31 176.05 286.18 176.73 286.08 177.41 285.99 178.09 285.92 178.77 285.87 179.46 285.84 180.15 285.83 180.84 285.84 181.53 285.87 182.23 285.92 182.92 285.99 183.62 286.08 184.31 286.18 185.00 286.31 185.69 286.45 186.38 286.61 187.07 286.79 187.75 286.98 188.43 287.19 189.10 287.42 189.76 287.66 190.42 287.92 191.08 288.19 191.72 288.47 192.37 288.76 193.01 289.07 193.64 289.37 194.28 289.69 194.91 290.00 195.54 290.31 196.17 290.63 196.80 290.94 197.44 291.24 198.07 291.54 198.70 291.83 199.34 292.11 199.99 292.38 200.63 292.63 201.29 292.86 201.94 293.09 202.60 293.30 203.27 293.50 203.93 293.69 204.60 293.87 205.28 294.03 205.95 294.19 206.63 294.34 207.32 294.48 208.00 294.62 208.69 294.74 209.37 294.86 210.06 294.98 210.76 295.09 211.45 295.20 212.14 295.30 212.84 295.40 213.53 295.50 214.23 295.59 214.93 295.67 215.63 295.76 216.33 295.83 217.03 295.91 217.73 295.98 218.43 296.04 219.13 296.11 219.83 296.17 220.53 296.22 221.23 296.28 221.94 296.32 222.64 296.37 223.34 296.41 224.04 296.45 224.74 296.49 225.44 296.52 226.15 296.55 226.85 296.58 227.55 296.60 228.25 296.62 228.95 296.64 229.65 296.66 230.35 296.67 231.05 296.68 231.75 296.69 232.45 296.70 233.15 296.70 233.85 296.70 234.55 296.70 235.25 296.69 235.95 296.69 236.65 296.68 237.35 296.67 238.04 296.66 238.74 296.64 239.44 296.63 240.14 296.61 240.84 296.59 241.54 296.57 242.24 296.54 242.94 296.52 243.63 296.49 244.33 296.46 245.03 296.43 245.73 296.40 246.43 296.37 247.13 296.33 247.82 296.30 248.52 296.26 249.22 296.23 249.92 296.19 250.62 296.15 251.31 296.11 252.01 296.07 252.71 296.02 253.41 295.98 254.11 295.94 254.80 295.89 255.50 295.85 256.20 295.80 256.90 295.76 257.60 295.71 258.29 295.66 258.99 295.62 259.69 295.57 260.39 295.52 261.09 295.47 261.78 295.43 262.48 295.38 263.18 295.33 263.88 295.28 264.58 295.23 265.28 295.19 265.97 295.14 266.67 295.09 267.37 295.05 268.07 295.00 268.77 294.95 269.47 294.91 270.16 294.86 270.86 294.82 271.56 294.78 272.26 294.73 272.96 294.69 273.66 294.65 274.36 294.61 275.06 294.57 275.76 294.53 276.46 294.50 277.15 294.46 277.85 294.43 278.55 294.39 279.25 294.36 279.95 294.33 280.65 294.30 281.35 294.27 282.05 294.25 282.50 294.30 H406.90" stroke="rgb(36,0,255)"/>
<path d="M99.71 319.64 99.91 318.82 100.16 318.03 100.44 317.28 100.76 316.59 101.11 315.96 101.51 315.40 101.94 314.93 102.41 314.55 102.92 314.27 103.47 314.10 104.06 314.05 104.68 314.12 105.33 314.26 105.99 314.43 106.67 314.61 107.34 314.77 108.02 314.90 108.70 315.01 109.38 315.11 110.06 315.18 110.74 315.24 111.43 315.28 112.12 315.30 112.81 315.31 113.50 315.30 114.19 315.28 114.88 315.25 115.57 315.20 116.27 315.14 116.97 315.08 117.66 315.00 118.36 314.91 119.06 314.82 119.76 314.72 120.45 314.62 121.15 314.50 121.85 314.39 122.55 314.27 123.25 314.15 123.95 314.03 124.65 313.90 125.35 313.78 126.05 313.66 126.75 313.54 127.44 313.42 128.14 313.30 128.84 313.19 129.54 313.08 130.23 312.98 130.93 312.88 131.62 312.78 132.32 312.69 133.02 312.60 133.71 312.52 134.41 312.45 135.10 312.38 135.80 312.32 136.49 312.27 137.19 312.22 137.88 312.18 138.58 312.15 139.27 312.13 139.97 312.12 140.67 312.11 141.36 312.12 142.06 312.13 142.76 312.14 143.45 312.17 144.15 312.20 144.85 312.23 145.54 312.27 146.24 312.32 146.94 312.37 147.64 312.42 148.33 312.47 149.03 312.53 149.73 312.59 150.43 312.65 151.12 312.72 151.82 312.78 152.52 312.85 153.22 312.91 153.92 312.98 154.62 313.04 155.31 313.10 156.01 313.16 156.71 313.22 157.41 313.27 158.11 313.32 158.81 313.37 159.50 313.41 160.20 313.45 160.90 313.49 161.60 313.51 162.30 313.53 163.00 313.55 163.69 313.56 164.39 313.56 165.09 313.55 165.79 313.54 166.49 313.51 167.19 313.48 167.88 313.44 168.58 313.39 169.28 313.34 169.98 313.28 170.67 313.21 171.37 313.14 172.06 313.06 172.76 312.97 173.46 312.88 174.15 312.78 174.85 312.68 175.54 312.57 176.23 312.46 176.93 312.34 177.62 312.22 178.31 312.09 179.00 311.96 179.69 311.82 180.38 311.69 181.07 311.55 181.76 311.40 182.44 311.25 183.13 311.10 183.82 310.95 184.50 310.80 185.18 310.64 185.87 310.48 186.55 310.32 187.23 310.16 187.91 310.00 188.59 309.84 189.26 309.68 189.94 309.51 190.61 309.35 191.29 309.19 191.96 309.02 192.63 308.85 193.30 308.68 193.98 308.51 194.65 308.34 195.32 308.16 195.99 307.98 196.67 307.79 197.34 307.60 198.01 307.41 198.69 307.21 199.37 307.00 200.05 306.78 200.73 306.56 201.41 306.34 202.10 306.12 202.78 305.89 203.47 305.68 204.16 305.48 204.85 305.29 205.53 305.11 206.22 304.96 206.91 304.83 207.60 304.73 208.29 304.66 208.97 304.63 209.66 304.63 210.34 304.67 211.03 304.75 211.71 304.87 212.39 305.02 213.06 305.20 213.74 305.39 214.41 305.60 215.08 305.83 215.75 306.05 216.42 306.29 217.08 306.52 217.74 306.76 218.40 307.01 219.06 307.25 219.72 307.50 220.38 307.74 221.04 307.99 221.70 308.23 222.36 308.47 223.02 308.71 223.68 308.95 224.34 309.18 225.00 309.40 225.67 309.62 226.33 309.83 227.00 310.03 227.67 310.23 228.34 310.42 229.01 310.60 229.69 310.78 230.36 310.95 231.04 311.12 231.71 311.28 232.39 311.44 233.07 311.59 233.76 311.73 234.44 311.87 235.12 312.00 235.81 312.13 236.50 312.25 237.18 312.37 237.87 312.48 238.56 312.59 239.25 312.69 239.94 312.79 240.63 312.88 241.33 312.97 242.02 313.06 242.72 313.14 243.41 313.22 244.11 313.29 244.80 313.36 245.50 313.42 246.20 313.48 246.90 313.54 247.60 313.59 248.30 313.64 249.00 313.69 249.70 313.73 250.40 313.77 251.10 313.81 251.80 313.85 252.50 313.88 253.21 313.91 253.91 313.93 254.61 313.95 255.31 313.98 256.02 313.99 256.72 314.01 257.42 314.02 258.12 314.04 258.83 314.05 259.53 314.05 260.23 314.06 260.93 314.06 261.63 314.07 262.34 314.07 263.04 314.07 263.74 314.07 264.44 314.06 265.14 314.06 265.84 314.05 266.54 314.04 267.24 314.03 267.95 314.02 268.65 314.01 269.35 314.00 270.05 313.98 270.75 313.96 271.45 313.95 272.15 313.93 272.85 313.91 273.55 313.89 274.25 313.86 274.95 313.84 275.65 313.82 276.35 313.79 277.04 313.77 277.74 313.74 278.44 313.71 279.14 313.68 279.84 313.65 280.54 313.62 281.24 313.59 281.94 313.56 282.64 313.52 283.33 313.49 284.03 313.46 284.73 313.42 285.43 313.39 286.13 313.35 286.83 313.31 287.53 313.28 288.22 313.24 288.92 313.20 289.62 313.16 290.32 313.12 291.02 313.08 291.71 313.04 292.41 313.00 293.11 312.96 293.81 312.92 294.51 312.88 295.20 312.84 295.90 312.80 296.60 312.76 297.30 312.72 298.00 312.68 298.69 312.64 299.39 312.60 300.09 312.56 300.79 312.52 301.49 312.48 302.18 312.44 302.88 312.40 303.58 312.36 304.28 312.32 304.98 312.28 305.67 312.24 306.37 312.20 307.07 312.16 307.77 312.12 308.47 312.09 309.16 312.05 309.86 312.01 310.56 311.98 311.26 311.94 311.96 311.91 312.66 311.87 313.36 311.84 314.05 311.81 314.75 311.78 315.45 311.75 316.15 311.72 316.85 311.69 317.55 311.66 318.25 311.63 318.95 311.60 319.65 311.58 320.34 311.55 321.04 311.53 321.74 311.51 322.44 311.49 323.14 311.47 323.84 311.45 324.54 311.43 325.24 311.41 325.94 311.40 326.64 311.38 327.34 311.37 328.04 311.36 328.74 311.35 329.44 311.34 330.15 311.33 330.85 311.33 331.55 311.32 332.25 311.32 332.95 311.32 333.65 311.32 334.35 311.32 335.06 311.33 335.76 311.33 336.46 311.34 337.16 311.35 337.86 311.36 338.57 311.37 339.27 311.39 339.97 311.40 340.01 311.40 H406.90" stroke="rgb(0,0,255)"/>
</g>
<g transform="translate(312.00 85.60)" fill="rgb(255,0,30)" stroke="none"><use href="#g0" transform="translate(-8.38 0) scale(0.3350)"/><use href="#g1" transform="translate(-1.67 0) scale(0.3350)"/><use href="#g0" transform="translate(1.68 0) scale(0.3350)"/></g>
<g transform="translate(312.00 102.80)" fill="rgb(255,0,67)" stroke="none"><use href="#g0" transform="translate(-8.38 0) scale(0.3350)"/><use href="#g1" transform="translate(-1.67 0) scale(0.3350)"/><use href="#g2" transform="translate(1.68 0) scale(0.3350)"/></g>
<g transform="translate(312.00 120.00)" fill="rgb(255,0,104)" stroke="none"><use href="#g3" transform="translate(-8.38 0) scale(0.3350)"/><use href="#g1" transform="translate(-1.67 0) scale(0.3350)"/><use href="#g4" transform="translate(1.68 0) scale(0.3350)"/></g>
<g transform="translate(312.00 137.20)" fill="rgb(255,0,141)" stroke="none"><use href="#g3" transform="translate(-8.38 0) scale(0.3350)"/><use href="#g1" transform="translate(-1.67 0) scale(0.3350)"/><use href="#g5" transform="translate(1.68 0) scale(0.3350)"/></g>
<g transform="translate(312.00 154.40)" fill="rgb(255,0,178)" stroke="none"><use href="#g6" transform="translate(-8.38 0) scale(0.3350)"/><use href="#g1" transform="translate(-1.67 0) scale(0.3350)"/><use href="#g4" transform="translate(1.68 0) scale(0.3350)"/></g>
<g transform="translate(312.00 171.60)" fill="rgb(255,0,215)" stroke="none"><use href="#g2" transform="translate(-8.38 0) scale(0.3350)"/><use href="#g1" transform="translate(-1.67 0) scale(0.3350)"/><use href="#g7" transform="translate(1.68 0) scale(0.3350)"/></g>
<g transform="translate(312.00 188.80)" fill="rgb(255,0,252)" stroke="none"><use href="#g8" transform="translate(-8.38 0) scale(0.3350)"/><use href="#g1" transform="translate(-1.67 0) scale(0.3350)"/><use href="#g4" transform="translate(1.68 0) scale(0.3350)"/></g>
<g transform="translate(310.30 206.00)" fill="rgb(221,0,255)" stroke="none"><use href="#g0" transform="translate(-11.73 0) scale(0.3350)"/><use href="#g0" transform="translate(-5.03 0) scale(0.3350)"/><use href="#g1" transform="translate(1.67 0) scale(0.3350)"/><use href="#g9" transform="translate(5.02 0) scale(0.3350)"/></g>
<g transform="translate(310.30 223.20)" fill="rgb(184,0,255)" stroke="none"><use href="#g0" transform="translate(-11.73 0) scale(0.3350)"/><use href="#g2" transform="translate(-5.03 0) scale(0.3350)"/><use href="#g1" transform="translate(1.67 0) scale(0.3350)"/><use href="#g5" transform="translate(5.02 0) scale(0.3350)"/></g>
<g transform="translate(310.30 240.40)" fill="rgb(147,0,255)" stroke="none"><use href="#g3" transform="translate(-11.73 0) scale(0.3350)"/><use href="#g3" transform="translate(-5.03 0) scale(0.3350)"/><use href="#g1" transform="translate(1.67 0) scale(0.3350)"/><use href="#g6" transform="translate(5.02 0) scale(0.3350)"/></g>
<g transform="translate(310.30 257.60)" fill="rgb(110,0,255)" stroke="none"><use href="#g9" transform="translate(-11.73 0) scale(0.3350)"/><use href="#g0" transform="translate(-5.03 0) scale(0.3350)"/><use href="#g1" transform="translate(1.67 0) scale(0.3350)"/><use href="#g7" transform="translate(5.02 0) scale(0.3350)"/></g>
<g transform="translate(310.30 274.80)" fill="rgb(73,0,255)" stroke="none"><use href="#g6" transform="translate(-11.73 0) scale(0.3350)"/><use href="#g6" transform="translate(-5.03 0) scale(0.3350)"/><use href="#g1" transform="translate(1.67 0) scale(0.3350)"/><use href="#g7" transform="translate(5.02 0) scale(0.3350)"/></g>
<g transform="translate(310.30 292.00)" fill="rgb(36,0,255)" stroke="none"><use href="#g10" transform="translate(-11.73 0) scale(0.3350)"/><use href="#g9" transform="translate(-5.03 0) scale(0.3350)"/><use href="#g1" transform="translate(1.67 0) scale(0.3350)"/><use href="#g0" transform="translate(5.02 0) scale(0.3350)"/></g>
<g transform="translate(310.30 309.20)" fill="rgb(0,0,255)" stroke="none"><use href="#g8" transform="translate(-11.73 0) scale(0.3350)"/><use href="#g5" transform="translate(-5.03 0) scale(0.3350)"/><use href="#g1" transform="translate(1.67 0) scale(0.3350)"/><use href="#g3" transform="translate(5.02 0) scale(0.3350)"/></g>
<g transform="translate(160.40 397.40)" fill="#000" stroke="none"><use href="#g11" transform="translate(-5.00 0) scale(0.5000)"/></g>
<g transform="translate(226.30 397.40)" fill="#000" stroke="none"><use href="#g12" transform="translate(-5.00 0) scale(0.5000)"/></g>
<g transform="translate(292.20 397.40)" fill="#000" stroke="none"><use href="#g13" transform="translate(-5.00 0) scale(0.5000)"/></g>
<g transform="translate(358.10 397.40)" fill="#000" stroke="none"><use href="#g14" transform="translate(-5.00 0) scale(0.5000)"/></g>
<g transform="translate(61.10 41.50)" fill="#000" stroke="none"><use href="#g15" transform="translate(0.00 0) scale(0.5000)"/><use href="#g16" transform="translate(10.00 0) scale(0.5000)"/></g>
<g transform="translate(81.40 33.00)" fill="#000" stroke="none"><use href="#g15" transform="translate(0.00 0) scale(0.5000)"/></g>
<g transform="translate(61.10 93.97)" fill="#000" stroke="none"><use href="#g15" transform="translate(0.00 0) scale(0.5000)"/><use href="#g16" transform="translate(10.00 0) scale(0.5000)"/></g>
<g transform="translate(81.40 85.47)" fill="#000" stroke="none"><use href="#g16" transform="translate(0.00 0) scale(0.5000)"/></g>
<g transform="translate(47.70 151.30)" fill="#000" stroke="none"><use href="#g15" transform="translate(0.00 0) scale(0.5000)"/><use href="#g16" transform="translate(10.00 0) scale(0.5000)"/></g>
<g transform="translate(67.70 142.80)" fill="#000" stroke="none"><use href="#g17" transform="translate(0.00 0) scale(0.5000)"/><use href="#g15" transform="translate(13.00 0) scale(0.5000)"/></g>
<g transform="translate(47.70 208.62)" fill="#000" stroke="none"><use href="#g15" transform="translate(0.00 0) scale(0.5000)"/><use href="#g16" transform="translate(10.00 0) scale(0.5000)"/></g>
<g transform="translate(67.70 200.12)" fill="#000" stroke="none"><use href="#g17" transform="translate(0.00 0) scale(0.5000)"/><use href="#g11" transform="translate(13.00 0) scale(0.5000)"/></g>
<g transform="translate(47.70 265.95)" fill="#000" stroke="none"><use href="#g15" transform="translate(0.00 0) scale(0.5000)"/><use href="#g16" transform="translate(10.00 0) scale(0.5000)"/></g>
<g transform="translate(67.70 257.45)" fill="#000" stroke="none"><use href="#g17" transform="translate(0.00 0) scale(0.5000)"/><use href="#g18" transform="translate(13.00 0) scale(0.5000)"/></g>
<g transform="translate(47.70 323.27)" fill="#000" stroke="none"><use href="#g15" transform="translate(0.00 0) scale(0.5000)"/><use href="#g16" transform="translate(10.00 0) scale(0.5000)"/></g>
<g transform="translate(67.70 314.77)" fill="#000" stroke="none"><use href="#g17" transform="translate(0.00 0) scale(0.5000)"/><use href="#g12" transform="translate(13.00 0) scale(0.5000)"/></g>
<g transform="translate(47.70 374.60)" fill="#000" stroke="none"><use href="#g15" transform="translate(0.00 0) scale(0.5000)"/><use href="#g16" transform="translate(10.00 0) scale(0.5000)"/></g>
<g transform="translate(67.70 366.10)" fill="#000" stroke="none"><use href="#g17" transform="translate(0.00 0) scale(0.5000)"/><use href="#g19" transform="translate(13.00 0) scale(0.5000)"/></g>
<g transform="translate(178.30 417.30)" fill="#000" stroke="none"><use href="#g20" transform="translate(0.00 0) scale(0.5000)"/><use href="#g21" transform="translate(19.00 0) scale(0.5000)"/><use href="#g11" transform="translate(26.00 0) scale(0.5000)"/><path d="M1.8 -10 C2.6 -12.6 4.2 -14 7 -14 L19 -14 M11.6 -14 L8.6 -2 C8.3 -0.6 8.8 0.2 10 -0.4" transform="translate(36.00 0) scale(0.5000)" fill="none" stroke="#000" stroke-width="2.30" stroke-linecap="round" stroke-linejoin="round"/></g>
<g transform="translate(224.60 420.20)" fill="#000" stroke="none"><use href="#g22" transform="translate(0.00 0) scale(0.2350)"/></g>
<g transform="translate(229.20 417.30)" fill="#000" stroke="none"><use href="#g23" transform="translate(0.00 0) scale(0.5000)"/></g>
<g transform="translate(236.30 410.30)" fill="#000" stroke="none"><use href="#g24" transform="translate(0.00 0) scale(0.2350)"/><use href="#g25" transform="translate(6.11 0) scale(0.2350)"/></g>
<g transform="translate(255.00 417.30)" fill="#000" stroke="none"><use href="#g21" transform="translate(0.00 0) scale(0.5000)"/><path d="M1.8 -10 C2.6 -12.6 4.2 -14 7 -14 L19 -14 M11.6 -14 L8.6 -2 C8.3 -0.6 8.8 0.2 10 -0.4" transform="translate(7.00 0) scale(0.5000)" fill="none" stroke="#000" stroke-width="2.30" stroke-linecap="round" stroke-linejoin="round"/><use href="#g26" transform="translate(17.00 0) scale(0.5000)"/><path d="M1.8 -10 C2.6 -12.6 4.2 -14 7 -14 L19 -14 M11.6 -14 L8.6 -2 C8.3 -0.6 8.8 0.2 10 -0.4" transform="translate(28.00 0) scale(0.5000)" fill="none" stroke="#000" stroke-width="2.30" stroke-linecap="round" stroke-linejoin="round"/></g>
<g transform="translate(293.60 420.20)" fill="#000" stroke="none"><use href="#g22" transform="translate(0.00 0) scale(0.2350)"/></g>
<g transform="translate(298.30 417.30)" fill="#000" stroke="none"><use href="#g23" transform="translate(0.00 0) scale(0.5000)"/></g>
<g transform="translate(305.20 410.30)" fill="#000" stroke="none"><use href="#g24" transform="translate(0.00 0) scale(0.2350)"/><use href="#g25" transform="translate(6.11 0) scale(0.2350)"/><use href="#g27" transform="translate(10.81 0) scale(0.2350)"/><use href="#g28" transform="translate(15.98 0) scale(0.2350)"/></g>
<g transform="translate(33.20 218.40) rotate(-90)" fill="#000" stroke="none"><path d="M10.6 -11.3 C9.4 -12.2 8 -12.5 6.6 -12.5 C3.4 -12.5 1.6 -9.8 1.6 -6.25 C1.6 -2.7 3.4 0 6.6 0 C8 0 9.4 -0.3 10.6 -1.2 M1.8 -6.25 H6.8" transform="translate(0.00 0) scale(0.5000)" fill="none" stroke="#000" stroke-width="2.30" stroke-linecap="round" stroke-linejoin="round"/></g>
<g transform="translate(33.90 210.80) rotate(-90)" fill="#000" stroke="none"><use href="#g26" transform="translate(0.00 0) scale(0.5000)"/></g>
<g transform="translate(33.20 198.70) rotate(-90)" fill="#000" stroke="none"><path d="M10.6 -11.3 C9.4 -12.2 8 -12.5 6.6 -12.5 C3.4 -12.5 1.6 -9.8 1.6 -6.25 C1.6 -2.7 3.4 0 6.6 0 C8 0 9.4 -0.3 10.6 -1.2 M1.8 -6.25 H6.8" transform="translate(0.00 0) scale(0.5000)" fill="none" stroke="#000" stroke-width="2.30" stroke-linecap="round" stroke-linejoin="round"/></g>
<g transform="translate(36.00 191.20) rotate(-90)" fill="#000" stroke="none"><use href="#g22" transform="translate(0.00 0) scale(0.2350)"/></g>
</svg>
</body></html>
